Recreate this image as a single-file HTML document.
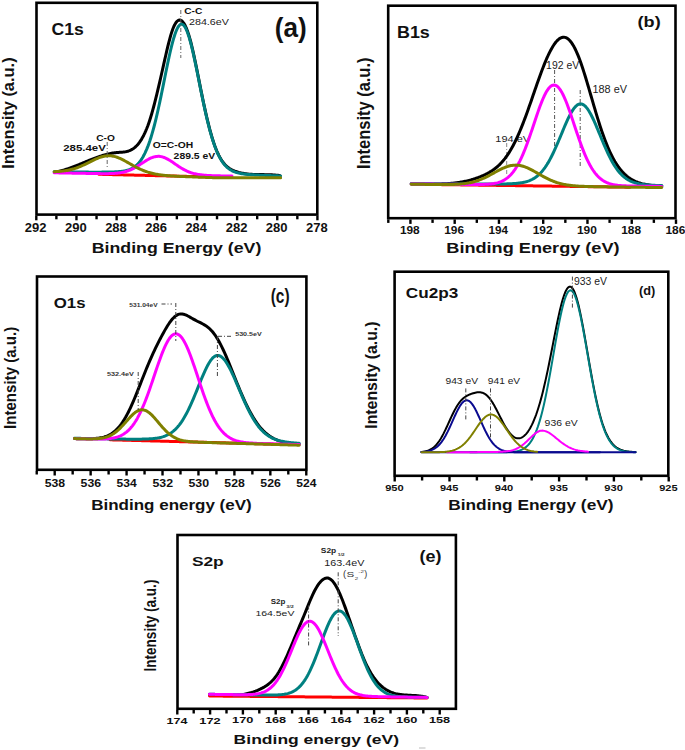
<!DOCTYPE html>
<html><head><meta charset="utf-8"><style>
html,body{margin:0;padding:0;background:#fff;}
svg{display:block;}
text{font-family:"Liberation Sans", sans-serif;font-kerning:none;}
</style></head><body>
<svg width="685" height="750" viewBox="0 0 685 750">
<rect width="685" height="750" fill="#fff"/>
<rect x="36.5" y="2.8" width="280.8" height="211.79999999999998" fill="none" stroke="#000" stroke-width="2.6"/>
<line x1="36.30" y1="215.80" x2="36.30" y2="220.30" stroke="#000" stroke-width="2.4"/>
<line x1="76.46" y1="215.80" x2="76.46" y2="220.30" stroke="#000" stroke-width="2.4"/>
<line x1="116.62" y1="215.80" x2="116.62" y2="220.30" stroke="#000" stroke-width="2.4"/>
<line x1="156.78" y1="215.80" x2="156.78" y2="220.30" stroke="#000" stroke-width="2.4"/>
<line x1="196.94" y1="215.80" x2="196.94" y2="220.30" stroke="#000" stroke-width="2.4"/>
<line x1="237.10" y1="215.80" x2="237.10" y2="220.30" stroke="#000" stroke-width="2.4"/>
<line x1="277.26" y1="215.80" x2="277.26" y2="220.30" stroke="#000" stroke-width="2.4"/>
<line x1="317.42" y1="215.80" x2="317.42" y2="220.30" stroke="#000" stroke-width="2.4"/>
<line x1="56.38" y1="215.80" x2="56.38" y2="219.30" stroke="#000" stroke-width="2.4"/>
<line x1="96.54" y1="215.80" x2="96.54" y2="219.30" stroke="#000" stroke-width="2.4"/>
<line x1="136.70" y1="215.80" x2="136.70" y2="219.30" stroke="#000" stroke-width="2.4"/>
<line x1="176.86" y1="215.80" x2="176.86" y2="219.30" stroke="#000" stroke-width="2.4"/>
<line x1="217.02" y1="215.80" x2="217.02" y2="219.30" stroke="#000" stroke-width="2.4"/>
<line x1="257.18" y1="215.80" x2="257.18" y2="219.30" stroke="#000" stroke-width="2.4"/>
<line x1="297.34" y1="215.80" x2="297.34" y2="219.30" stroke="#000" stroke-width="2.4"/>
<text x="24.85" y="231.98" font-size="12.15" font-weight="bold" fill="#111" textLength="21.77" lengthAdjust="spacingAndGlyphs" >292</text>
<text x="65.01" y="231.98" font-size="12.15" font-weight="bold" fill="#111" textLength="21.79" lengthAdjust="spacingAndGlyphs" >290</text>
<text x="105.17" y="231.98" font-size="12.15" font-weight="bold" fill="#111" textLength="21.65" lengthAdjust="spacingAndGlyphs" >288</text>
<text x="145.33" y="231.98" font-size="12.15" font-weight="bold" fill="#111" textLength="21.72" lengthAdjust="spacingAndGlyphs" >286</text>
<text x="185.50" y="231.98" font-size="12.15" font-weight="bold" fill="#111" textLength="21.31" lengthAdjust="spacingAndGlyphs" >284</text>
<text x="225.65" y="231.98" font-size="12.15" font-weight="bold" fill="#111" textLength="21.77" lengthAdjust="spacingAndGlyphs" >282</text>
<text x="265.81" y="231.98" font-size="12.15" font-weight="bold" fill="#111" textLength="21.79" lengthAdjust="spacingAndGlyphs" >280</text>
<text x="305.97" y="231.98" font-size="12.15" font-weight="bold" fill="#111" textLength="21.65" lengthAdjust="spacingAndGlyphs" >278</text>
<text transform="translate(14.14,168.75) rotate(-90)" x="0" y="0" font-size="16.41" font-weight="bold" fill="#111" textLength="111.42" lengthAdjust="spacingAndGlyphs">Intensity (a.u.)</text>
<text x="91.71" y="252.94" font-size="15.38" font-weight="bold" fill="#111" textLength="169.67" lengthAdjust="spacingAndGlyphs" >Binding Energy (eV)</text>
<text x="51.48" y="35.04" font-size="16.10" font-weight="bold" fill="#111" textLength="32.24" lengthAdjust="spacingAndGlyphs" >C1s</text>
<text x="274.80" y="37.05" font-size="27.25" font-weight="bold" fill="#111" textLength="31.90" lengthAdjust="spacingAndGlyphs" >(a)</text>
<polyline points="54.40,172.21 55.40,172.04 56.41,171.86 57.41,171.66 58.41,171.45 59.41,171.21 60.42,170.97 61.42,170.71 62.42,170.44 63.42,170.15 64.43,169.86 65.43,169.55 66.43,169.23 67.43,168.90 68.44,168.56 69.44,168.21 70.44,167.86 71.45,167.49 72.45,167.12 73.45,166.74 74.45,166.36 75.46,165.97 76.46,165.57 77.46,165.17 78.46,164.77 79.47,164.36 80.47,163.95 81.47,163.54 82.47,163.13 83.48,162.72 84.48,162.31 85.48,161.89 86.49,161.48 87.49,161.07 88.49,160.67 89.49,160.26 90.50,159.86 91.50,159.46 92.50,159.07 93.50,158.68 94.51,158.30 95.51,157.93 96.51,157.56 97.51,157.20 98.52,156.84 99.52,156.50 100.52,156.17 101.53,155.84 102.53,155.53 103.53,155.22 104.53,154.93 105.54,154.66 106.54,154.39 107.54,154.14 108.54,153.90 109.55,153.68 110.55,153.47 111.55,153.28 112.55,153.10 113.56,152.94 114.56,152.80 115.56,152.68 116.57,152.58 117.57,152.49 118.57,152.42 119.57,152.35 120.58,152.29 121.58,152.21 122.58,152.13 123.58,152.02 124.59,151.89 125.59,151.72 126.59,151.52 127.59,151.26 128.60,150.96 129.60,150.59 130.60,150.16 131.61,149.65 132.61,149.07 133.61,148.39 134.61,147.63 135.62,146.76 136.62,145.79 137.62,144.71 138.62,143.50 139.63,142.17 140.63,140.71 141.63,139.10 142.63,137.36 143.64,135.45 144.64,133.39 145.64,131.16 146.65,128.76 147.65,126.18 148.65,123.42 149.65,120.46 150.66,117.30 151.66,113.95 152.66,110.42 153.66,106.74 154.67,102.91 155.67,98.94 156.67,94.87 157.67,90.69 158.68,86.43 159.68,82.10 160.68,77.71 161.69,73.29 162.69,68.85 163.69,64.39 164.69,59.95 165.70,55.52 166.70,51.17 167.70,46.93 168.70,42.86 169.71,39.01 170.71,35.42 171.71,32.15 172.71,29.25 173.72,26.75 174.72,24.65 175.72,22.96 176.73,21.65 177.73,20.73 178.73,20.20 179.73,20.04 180.74,20.26 181.74,20.85 182.74,21.80 183.74,23.12 184.75,24.79 185.75,26.81 186.75,29.17 187.75,31.88 188.76,34.93 189.76,38.31 190.76,42.01 191.77,46.01 192.77,50.27 193.77,54.76 194.77,59.44 195.78,64.27 196.78,69.22 197.78,74.24 198.78,79.31 199.79,84.38 200.79,89.42 201.79,94.40 202.79,99.27 203.80,104.02 204.80,108.65 205.80,113.14 206.81,117.48 207.81,121.67 208.81,125.69 209.81,129.55 210.82,133.22 211.82,136.70 212.82,139.98 213.82,143.06 214.83,145.92 215.83,148.57 216.83,151.02 217.83,153.28 218.84,155.35 219.84,157.25 220.84,158.99 221.85,160.57 222.85,162.00 223.85,163.30 224.85,164.47 225.86,165.51 226.86,166.45 227.86,167.29 228.86,168.04 229.87,168.70 230.87,169.29 231.87,169.82 232.87,170.29 233.88,170.71 234.88,171.10 235.88,171.46 236.89,171.80 237.89,172.10 238.89,172.39 239.89,172.65 240.90,172.89 241.90,173.11 242.90,173.31 243.90,173.49 244.91,173.65 245.91,173.80 246.91,173.93 247.91,174.04 248.92,174.14 249.92,174.23 250.92,174.30 251.93,174.37 252.93,174.42 253.93,174.46 254.93,174.50 255.94,174.53 256.94,174.55 257.94,174.57 258.94,174.59 259.95,174.60 260.95,174.60 261.95,174.61 262.95,174.62 263.96,174.62 264.96,174.63 265.96,174.65 266.97,174.66 267.97,174.68 268.97,174.71 269.97,174.74 270.98,174.78 271.98,174.82 272.98,174.88 273.98,174.95 274.99,175.03 275.99,175.12 276.99,175.23 277.99,175.35 279.00,175.48 280.00,175.63" fill="none" stroke="#000" stroke-width="3" stroke-linejoin="round" stroke-linecap="round"/>
<polyline points="99.00,174.30 99.99,174.32 100.98,174.35 101.97,174.37 102.96,174.39 103.95,174.42 104.94,174.44 105.93,174.46 106.93,174.49 107.92,174.51 108.91,174.53 109.90,174.56 110.89,174.58 111.88,174.60 112.87,174.63 113.86,174.65 114.85,174.67 115.84,174.70 116.83,174.72 117.82,174.74 118.81,174.77 119.80,174.79 120.79,174.81 121.79,174.84 122.78,174.86 123.77,174.88 124.76,174.91 125.75,174.93 126.74,174.95 127.73,174.98 128.72,175.00 129.71,175.02 130.70,175.05 131.69,175.07 132.68,175.09 133.67,175.12 134.66,175.14 135.65,175.16 136.64,175.19 137.64,175.21 138.63,175.23 139.62,175.26 140.61,175.28 141.60,175.30 142.59,175.33 143.58,175.35 144.57,175.37 145.56,175.40 146.55,175.42 147.54,175.44 148.53,175.47 149.52,175.49 150.51,175.51 151.50,175.54 152.50,175.56 153.49,175.59 154.48,175.61 155.47,175.63 156.46,175.66 157.45,175.68 158.44,175.70 159.43,175.73 160.42,175.75 161.41,175.77 162.40,175.80 163.39,175.82 164.38,175.84 165.37,175.87 166.36,175.89 167.36,175.91 168.35,175.94 169.34,175.96 170.33,175.98 171.32,176.01 172.31,176.03 173.30,176.05 174.29,176.08 175.28,176.10 176.27,176.12 177.26,176.15 178.25,176.17 179.24,176.19 180.23,176.22 181.22,176.24 182.21,176.26 183.21,176.29 184.20,176.31 185.19,176.33 186.18,176.36 187.17,176.38 188.16,176.40 189.15,176.43 190.14,176.45 191.13,176.47 192.12,176.50 193.11,176.52 194.10,176.54 195.09,176.57 196.08,176.59 197.07,176.61 198.07,176.64 199.06,176.66 200.05,176.68 201.04,176.71 202.03,176.73 203.02,176.75 204.01,176.78 205.00,176.80" fill="none" stroke="#ff0000" stroke-width="3" stroke-linejoin="round" stroke-linecap="round"/>
<polyline points="54.20,171.79 55.20,171.81 56.19,171.82 57.19,171.83 58.19,171.85 59.19,171.86 60.18,171.87 61.18,171.88 62.18,171.90 63.18,171.91 64.17,171.92 65.17,171.93 66.17,171.94 67.17,171.95 68.16,171.96 69.16,171.97 70.16,171.98 71.16,172.00 72.15,172.00 73.15,172.01 74.15,172.02 75.14,172.03 76.14,172.04 77.14,172.05 78.14,172.06 79.13,172.07 80.13,172.07 81.13,172.08 82.13,172.09 83.12,172.10 84.12,172.10 85.12,172.11 86.12,172.11 87.11,172.12 88.11,172.12 89.11,172.13 90.10,172.13 91.10,172.13 92.10,172.14 93.10,172.14 94.09,172.14 95.09,172.14 96.09,172.14 97.09,172.14 98.08,172.14 99.08,172.14 100.08,172.13 101.08,172.13 102.07,172.12 103.07,172.12 104.07,172.11 105.07,172.10 106.06,172.09 107.06,172.08 108.06,172.06 109.05,172.04 110.05,172.02 111.05,172.00 112.05,171.97 113.04,171.93 114.04,171.90 115.04,171.85 116.04,171.80 117.03,171.74 118.03,171.67 119.03,171.59 120.03,171.50 121.02,171.39 122.02,171.26 123.02,171.12 124.01,170.95 125.01,170.76 126.01,170.54 127.01,170.28 128.00,169.99 129.00,169.66 130.00,169.28 131.00,168.84 131.99,168.35 132.99,167.79 133.99,167.16 134.99,166.45 135.98,165.66 136.98,164.77 137.98,163.77 138.98,162.66 139.97,161.43 140.97,160.06 141.97,158.56 142.96,156.91 143.96,155.10 144.96,153.13 145.96,150.98 146.95,148.66 147.95,146.14 148.95,143.44 149.95,140.55 150.94,137.45 151.94,134.16 152.94,130.67 153.94,126.99 154.93,123.13 155.93,119.08 156.93,114.86 157.93,110.49 158.92,105.97 159.92,101.32 160.92,96.57 161.91,91.73 162.91,86.83 163.91,81.90 164.91,76.96 165.90,72.04 166.90,67.18 167.90,62.41 168.90,57.77 169.89,53.29 170.89,49.00 171.89,44.95 172.89,41.16 173.88,37.68 174.88,34.54 175.88,31.76 176.87,29.38 177.87,27.43 178.87,25.92 179.87,24.87 180.86,24.29 181.86,24.20 182.86,24.58 183.86,25.45 184.85,26.78 185.85,28.57 186.85,30.78 187.85,33.41 188.84,36.42 189.84,39.79 190.84,43.47 191.84,47.44 192.83,51.66 193.83,56.09 194.83,60.70 195.82,65.46 196.82,70.31 197.82,75.25 198.82,80.22 199.81,85.20 200.81,90.15 201.81,95.06 202.81,99.90 203.80,104.64 204.80,109.26 205.80,113.74 206.80,118.08 207.79,122.24 208.79,126.24 209.79,130.04 210.79,133.66 211.78,137.09 212.78,140.31 213.78,143.34 214.77,146.17 215.77,148.81 216.77,151.27 217.77,153.54 218.76,155.63 219.76,157.56 220.76,159.32 221.76,160.93 222.75,162.40 223.75,163.73 224.75,164.93 225.75,166.02 226.74,167.00 227.74,167.88 228.74,168.67 229.73,169.38 230.73,170.00 231.73,170.57 232.73,171.06 233.72,171.51 234.72,171.90 235.72,172.25 236.72,172.56 237.71,172.84 238.71,173.08 239.71,173.30 240.71,173.49 241.70,173.67 242.70,173.82 243.70,173.96 244.70,174.09 245.69,174.20 246.69,174.30 247.69,174.40 248.68,174.48 249.68,174.56 250.68,174.64 251.68,174.71 252.67,174.77 253.67,174.83 254.67,174.89 255.67,174.95 256.66,175.00 257.66,175.05 258.66,175.10 259.66,175.15 260.65,175.19 261.65,175.24 262.65,175.28 263.64,175.32 264.64,175.37 265.64,175.41 266.64,175.45 267.63,175.49 268.63,175.52 269.63,175.56 270.63,175.60 271.62,175.63 272.62,175.67 273.62,175.71 274.62,175.74 275.61,175.78 276.61,175.81 277.61,175.84 278.61,175.88 279.60,175.91 280.60,175.94" fill="none" stroke="#008080" stroke-width="3" stroke-linejoin="round" stroke-linecap="round"/>
<polyline points="54.20,172.80 55.20,172.82 56.20,172.84 57.20,172.86 58.20,172.87 59.19,172.89 60.19,172.91 61.19,172.93 62.19,172.95 63.19,172.97 64.19,172.99 65.19,173.00 66.19,173.02 67.19,173.04 68.18,173.06 69.18,173.08 70.18,173.10 71.18,173.12 72.18,173.13 73.18,173.15 74.18,173.17 75.18,173.19 76.18,173.21 77.17,173.23 78.17,173.24 79.17,173.26 80.17,173.28 81.17,173.30 82.17,173.32 83.17,173.34 84.17,173.36 85.17,173.37 86.16,173.39 87.16,173.41 88.16,173.43 89.16,173.45 90.16,173.46 91.16,173.48 92.16,173.50 93.16,173.52 94.16,173.53 95.15,173.55 96.15,173.56 97.15,173.58 98.15,173.59 99.15,173.61 100.15,173.62 101.15,173.63 102.15,173.64 103.14,173.64 104.14,173.65 105.14,173.65 106.14,173.64 107.14,173.64 108.14,173.63 109.14,173.61 110.14,173.59 111.14,173.56 112.13,173.52 113.13,173.47 114.13,173.42 115.13,173.35 116.13,173.27 117.13,173.17 118.13,173.06 119.13,172.94 120.13,172.79 121.12,172.63 122.12,172.44 123.12,172.23 124.12,172.00 125.12,171.74 126.12,171.45 127.12,171.14 128.12,170.79 129.12,170.42 130.11,170.02 131.11,169.59 132.11,169.12 133.11,168.63 134.11,168.11 135.11,167.56 136.11,166.99 137.11,166.40 138.11,165.78 139.10,165.15 140.10,164.51 141.10,163.86 142.10,163.20 143.10,162.55 144.10,161.90 145.10,161.26 146.10,160.63 147.10,160.03 148.09,159.46 149.09,158.92 150.09,158.42 151.09,157.96 152.09,157.55 153.09,157.20 154.09,156.90 155.09,156.66 156.09,156.49 157.08,156.38 158.08,156.33 159.08,156.36 160.08,156.45 161.08,156.61 162.08,156.83 163.08,157.11 164.08,157.46 165.08,157.86 166.07,158.32 167.07,158.82 168.07,159.36 169.07,159.94 170.07,160.56 171.07,161.20 172.07,161.86 173.07,162.54 174.07,163.23 175.06,163.93 176.06,164.62 177.06,165.31 178.06,165.99 179.06,166.65 180.06,167.30 181.06,167.93 182.06,168.53 183.06,169.11 184.05,169.66 185.05,170.19 186.05,170.68 187.05,171.15 188.05,171.58 189.05,171.99 190.05,172.36 191.05,172.71 192.04,173.03 193.04,173.32 194.04,173.59 195.04,173.83 196.04,174.05 197.04,174.25 198.04,174.43 199.04,174.59 200.04,174.73 201.03,174.86 202.03,174.98 203.03,175.08 204.03,175.17 205.03,175.25 206.03,175.33 207.03,175.39 208.03,175.45 209.03,175.50 210.02,175.55 211.02,175.59 212.02,175.63 213.02,175.67 214.02,175.70 215.02,175.73 216.02,175.76 217.02,175.79 218.02,175.81 219.01,175.84 220.01,175.86 221.01,175.88 222.01,175.90 223.01,175.92 224.01,175.94 225.01,175.96 226.01,175.98 227.01,176.00 228.00,176.02 229.00,176.04 230.00,176.06 231.00,176.08 232.00,176.10" fill="none" stroke="#ff00ff" stroke-width="3" stroke-linejoin="round" stroke-linecap="round"/>
<polyline points="54.20,171.67 55.20,171.63 56.19,171.59 57.19,171.53 58.19,171.47 59.19,171.40 60.18,171.32 61.18,171.23 62.18,171.13 63.18,171.01 64.17,170.88 65.17,170.74 66.17,170.58 67.17,170.41 68.16,170.22 69.16,170.01 70.16,169.79 71.16,169.55 72.15,169.29 73.15,169.01 74.15,168.72 75.14,168.40 76.14,168.07 77.14,167.72 78.14,167.35 79.13,166.96 80.13,166.56 81.13,166.14 82.13,165.70 83.12,165.25 84.12,164.79 85.12,164.31 86.12,163.83 87.11,163.34 88.11,162.84 89.11,162.34 90.10,161.84 91.10,161.34 92.10,160.84 93.10,160.35 94.09,159.87 95.09,159.40 96.09,158.95 97.09,158.52 98.08,158.10 99.08,157.72 100.08,157.35 101.08,157.02 102.07,156.73 103.07,156.46 104.07,156.24 105.07,156.05 106.06,155.91 107.06,155.81 108.06,155.76 109.05,155.75 110.05,155.78 111.05,155.86 112.05,155.99 113.04,156.16 114.04,156.38 115.04,156.63 116.04,156.93 117.03,157.26 118.03,157.63 119.03,158.03 120.03,158.46 121.02,158.92 122.02,159.40 123.02,159.91 124.01,160.43 125.01,160.96 126.01,161.51 127.01,162.07 128.00,162.63 129.00,163.20 130.00,163.77 131.00,164.34 131.99,164.90 132.99,165.46 133.99,166.01 134.99,166.55 135.98,167.08 136.98,167.59 137.98,168.10 138.98,168.58 139.97,169.05 140.97,169.50 141.97,169.94 142.96,170.35 143.96,170.75 144.96,171.13 145.96,171.49 146.95,171.83 147.95,172.16 148.95,172.46 149.95,172.75 150.94,173.02 151.94,173.28 152.94,173.52 153.94,173.74 154.93,173.95 155.93,174.14 156.93,174.32 157.93,174.49 158.92,174.65 159.92,174.80 160.92,174.93 161.91,175.06 162.91,175.18 163.91,175.29 164.91,175.39 165.90,175.49 166.90,175.58 167.90,175.66 168.90,175.74 169.89,175.81 170.89,175.88 171.89,175.95 172.89,176.01 173.88,176.07 174.88,176.13 175.88,176.18 176.87,176.23 177.87,176.28 178.87,176.33 179.87,176.38 180.86,176.42 181.86,176.47 182.86,176.51 183.86,176.55 184.85,176.60 185.85,176.64 186.85,176.68 187.85,176.72 188.84,176.76 189.84,176.79 190.84,176.83 191.84,176.87 192.83,176.91 193.83,176.95 194.83,176.98 195.82,177.02 196.82,177.06 197.82,177.09 198.82,177.13 199.81,177.17 200.81,177.20 201.81,177.24 202.81,177.27 203.80,177.31 204.80,177.35 205.80,177.38 206.80,177.42 207.79,177.45 208.79,177.49 209.79,177.52 210.79,177.56 211.78,177.59 212.78,177.63 213.78,177.66 214.77,177.70 215.77,177.71 216.77,177.71 217.77,177.71 218.76,177.71 219.76,177.72 220.76,177.72 221.76,177.72 222.75,177.72 223.75,177.72 224.75,177.72 225.75,177.72 226.74,177.72 227.74,177.73 228.74,177.73 229.73,177.73 230.73,177.73 231.73,177.73 232.73,177.73 233.72,177.73 234.72,177.73 235.72,177.73 236.72,177.74 237.71,177.74 238.71,177.74 239.71,177.74 240.71,177.74 241.70,177.74 242.70,177.74 243.70,177.74 244.70,177.74 245.69,177.74 246.69,177.74 247.69,177.75 248.68,177.75 249.68,177.75 250.68,177.75 251.68,177.75 252.67,177.75 253.67,177.75 254.67,177.75 255.67,177.75 256.66,177.75 257.66,177.75 258.66,177.75 259.66,177.75 260.65,177.75 261.65,177.75 262.65,177.76 263.64,177.76 264.64,177.76 265.64,177.76 266.64,177.76 267.63,177.76 268.63,177.76 269.63,177.76 270.63,177.76 271.62,177.76 272.62,177.76 273.62,177.76 274.62,177.76 275.61,177.76 276.61,177.76 277.61,177.76 278.61,177.76 279.60,177.76 280.60,177.76" fill="none" stroke="#808000" stroke-width="3" stroke-linejoin="round" stroke-linecap="round"/>
<line x1="180.80" y1="10.00" x2="180.80" y2="58.00" stroke="#666" stroke-width="1" stroke-dasharray="4,2,1,2"/>
<line x1="107.20" y1="142.00" x2="107.20" y2="168.00" stroke="#666" stroke-width="1" stroke-dasharray="4,2,1,2"/>
<text x="184.28" y="13.51" font-size="8.90" font-weight="bold" fill="#111" textLength="17.99" lengthAdjust="spacingAndGlyphs" >C-C</text>
<text x="188.96" y="24.90" font-size="9.89" font-weight="normal" fill="#222" textLength="39.99" lengthAdjust="spacingAndGlyphs" >284.6eV</text>
<text x="96.18" y="141.02" font-size="8.47" font-weight="bold" fill="#111" textLength="18.64" lengthAdjust="spacingAndGlyphs" >C-O</text>
<text x="63.20" y="151.10" font-size="9.75" font-weight="bold" fill="#111" textLength="42.57" lengthAdjust="spacingAndGlyphs" >285.4eV</text>
<text x="152.78" y="148.01" font-size="8.76" font-weight="bold" fill="#111" textLength="40.32" lengthAdjust="spacingAndGlyphs" >O=C-OH</text>
<text x="173.64" y="159.31" font-size="9.60" font-weight="bold" fill="#111" textLength="41.53" lengthAdjust="spacingAndGlyphs" >289.5 eV</text>
<rect x="388.2" y="5.7" width="287.3" height="212.5" fill="none" stroke="#000" stroke-width="2.6"/>
<line x1="410.43" y1="219.40" x2="410.43" y2="223.90" stroke="#000" stroke-width="2.4"/>
<line x1="454.69" y1="219.40" x2="454.69" y2="223.90" stroke="#000" stroke-width="2.4"/>
<line x1="498.95" y1="219.40" x2="498.95" y2="223.90" stroke="#000" stroke-width="2.4"/>
<line x1="543.21" y1="219.40" x2="543.21" y2="223.90" stroke="#000" stroke-width="2.4"/>
<line x1="587.47" y1="219.40" x2="587.47" y2="223.90" stroke="#000" stroke-width="2.4"/>
<line x1="631.73" y1="219.40" x2="631.73" y2="223.90" stroke="#000" stroke-width="2.4"/>
<line x1="675.99" y1="219.40" x2="675.99" y2="223.90" stroke="#000" stroke-width="2.4"/>
<line x1="388.30" y1="219.40" x2="388.30" y2="222.90" stroke="#000" stroke-width="2.4"/>
<line x1="432.56" y1="219.40" x2="432.56" y2="222.90" stroke="#000" stroke-width="2.4"/>
<line x1="476.82" y1="219.40" x2="476.82" y2="222.90" stroke="#000" stroke-width="2.4"/>
<line x1="521.08" y1="219.40" x2="521.08" y2="222.90" stroke="#000" stroke-width="2.4"/>
<line x1="565.34" y1="219.40" x2="565.34" y2="222.90" stroke="#000" stroke-width="2.4"/>
<line x1="609.60" y1="219.40" x2="609.60" y2="222.90" stroke="#000" stroke-width="2.4"/>
<line x1="653.86" y1="219.40" x2="653.86" y2="222.90" stroke="#000" stroke-width="2.4"/>
<text x="399.93" y="233.90" font-size="10.03" font-weight="bold" fill="#111" textLength="19.81" lengthAdjust="spacingAndGlyphs" >198</text>
<text x="444.19" y="233.90" font-size="10.03" font-weight="bold" fill="#111" textLength="19.88" lengthAdjust="spacingAndGlyphs" >196</text>
<text x="488.46" y="233.90" font-size="10.03" font-weight="bold" fill="#111" textLength="19.50" lengthAdjust="spacingAndGlyphs" >194</text>
<text x="532.71" y="233.90" font-size="10.03" font-weight="bold" fill="#111" textLength="19.93" lengthAdjust="spacingAndGlyphs" >192</text>
<text x="576.97" y="233.90" font-size="10.03" font-weight="bold" fill="#111" textLength="19.94" lengthAdjust="spacingAndGlyphs" >190</text>
<text x="621.23" y="233.90" font-size="10.03" font-weight="bold" fill="#111" textLength="19.81" lengthAdjust="spacingAndGlyphs" >188</text>
<text x="665.49" y="233.90" font-size="10.03" font-weight="bold" fill="#111" textLength="19.88" lengthAdjust="spacingAndGlyphs" >186</text>
<text transform="translate(370.00,169.05) rotate(-90)" x="0" y="0" font-size="17.59" font-weight="bold" fill="#111" textLength="111.52" lengthAdjust="spacingAndGlyphs">Intensity (a.u.)</text>
<text x="446.29" y="252.71" font-size="15.06" font-weight="bold" fill="#111" textLength="173.32" lengthAdjust="spacingAndGlyphs" >Binding Energy (eV)</text>
<text x="397.00" y="38.24" font-size="16.19" font-weight="bold" fill="#111" textLength="32.83" lengthAdjust="spacingAndGlyphs" >B1s</text>
<text x="637.60" y="26.68" font-size="15.02" font-weight="bold" fill="#111" textLength="23.10" lengthAdjust="spacingAndGlyphs" >(b)</text>
<text x="546.11" y="69.30" font-size="10.03" font-weight="normal" fill="#222" textLength="33.04" lengthAdjust="spacingAndGlyphs" >192 eV</text>
<text x="592.47" y="93.40" font-size="10.03" font-weight="normal" fill="#222" textLength="34.48" lengthAdjust="spacingAndGlyphs" >188 eV</text>
<text x="495.37" y="141.70" font-size="9.75" font-weight="normal" fill="#222" textLength="34.68" lengthAdjust="spacingAndGlyphs" >194 eV</text>
<line x1="554.60" y1="70.00" x2="554.60" y2="146.00" stroke="#555" stroke-width="1" stroke-dasharray="4,2,1,2"/>
<line x1="580.20" y1="90.00" x2="580.20" y2="168.00" stroke="#555" stroke-width="1" stroke-dasharray="4,2,1,2"/>
<line x1="506.70" y1="143.00" x2="506.70" y2="174.30" stroke="#888" stroke-width="1" stroke-dasharray="4,2,1,2"/>
<polyline points="411.20,183.90 412.20,183.91 413.20,183.92 414.20,183.92 415.19,183.93 416.19,183.94 417.19,183.95 418.19,183.96 419.19,183.97 420.19,183.98 421.18,183.98 422.18,183.99 423.18,184.00 424.18,184.00 425.18,184.01 426.18,184.01 427.17,184.01 428.17,184.02 429.17,184.02 430.17,184.02 431.17,184.02 432.17,184.01 433.16,184.01 434.16,184.00 435.16,184.00 436.16,183.98 437.16,183.97 438.16,183.96 439.16,183.94 440.15,183.91 441.15,183.89 442.15,183.86 443.15,183.82 444.15,183.78 445.15,183.74 446.14,183.69 447.14,183.64 448.14,183.58 449.14,183.51 450.14,183.44 451.14,183.36 452.13,183.27 453.13,183.17 454.13,183.07 455.13,182.96 456.13,182.84 457.13,182.71 458.13,182.57 459.12,182.42 460.12,182.26 461.12,182.09 462.12,181.91 463.12,181.72 464.12,181.52 465.11,181.31 466.11,181.09 467.11,180.86 468.11,180.62 469.11,180.36 470.11,180.10 471.10,179.82 472.10,179.53 473.10,179.24 474.10,178.92 475.10,178.60 476.10,178.27 477.09,177.92 478.09,177.56 479.09,177.18 480.09,176.79 481.09,176.39 482.09,175.97 483.09,175.53 484.08,175.08 485.08,174.61 486.08,174.11 487.08,173.60 488.08,173.06 489.08,172.50 490.07,171.91 491.07,171.30 492.07,170.65 493.07,169.97 494.07,169.26 495.07,168.51 496.06,167.71 497.06,166.88 498.06,166.00 499.06,165.07 500.06,164.09 501.06,163.06 502.05,161.98 503.05,160.83 504.05,159.62 505.05,158.36 506.05,157.02 507.05,155.62 508.05,154.15 509.04,152.61 510.04,150.99 511.04,149.31 512.04,147.55 513.04,145.71 514.04,143.80 515.03,141.81 516.03,139.75 517.03,137.61 518.03,135.41 519.03,133.13 520.03,130.78 521.02,128.37 522.02,125.89 523.02,123.35 524.02,120.76 525.02,118.11 526.02,115.41 527.02,112.67 528.01,109.89 529.01,107.08 530.01,104.24 531.01,101.38 532.01,98.50 533.01,95.61 534.00,92.72 535.00,89.83 536.00,86.95 537.00,84.09 538.00,81.26 539.00,78.45 539.99,75.69 540.99,72.96 541.99,70.30 542.99,67.68 543.99,65.14 544.99,62.67 545.98,60.27 546.98,57.96 547.98,55.75 548.98,53.63 549.98,51.61 550.98,49.70 551.98,47.91 552.97,46.24 553.97,44.70 554.97,43.28 555.97,42.00 556.97,40.87 557.97,39.87 558.96,39.03 559.96,38.35 560.96,37.82 561.96,37.46 562.96,37.26 563.96,37.23 564.95,37.38 565.95,37.69 566.95,38.19 567.95,38.86 568.95,39.71 569.95,40.74 570.95,41.95 571.94,43.34 572.94,44.89 573.94,46.62 574.94,48.52 575.94,50.58 576.94,52.80 577.93,55.17 578.93,57.68 579.93,60.33 580.93,63.10 581.93,66.00 582.93,69.00 583.92,72.09 584.92,75.27 585.92,78.53 586.92,81.84 587.92,85.21 588.92,88.62 589.91,92.05 590.91,95.50 591.91,98.95 592.91,102.39 593.91,105.81 594.91,109.20 595.91,112.56 596.90,115.87 597.90,119.12 598.90,122.31 599.90,125.43 600.90,128.47 601.90,131.43 602.89,134.31 603.89,137.09 604.89,139.79 605.89,142.39 606.89,144.89 607.89,147.30 608.88,149.60 609.88,151.81 610.88,153.92 611.88,155.94 612.88,157.86 613.88,159.69 614.87,161.43 615.87,163.07 616.87,164.63 617.87,166.11 618.87,167.50 619.87,168.82 620.87,170.06 621.86,171.23 622.86,172.33 623.86,173.36 624.86,174.33 625.86,175.23 626.86,176.08 627.85,176.88 628.85,177.62 629.85,178.31 630.85,178.95 631.85,179.55 632.85,180.11 633.84,180.63 634.84,181.11 635.84,181.55 636.84,181.96 637.84,182.35 638.84,182.70 639.84,183.02 640.83,183.32 641.83,183.60 642.83,183.85 643.83,184.09 644.83,184.30 645.83,184.50 646.82,184.68 647.82,184.85 648.82,185.00 649.82,185.14 650.82,185.26 651.82,185.38 652.81,185.49 653.81,185.58 654.81,185.67 655.81,185.75 656.81,185.83 657.81,185.89 658.80,185.96 659.80,186.01 660.80,186.06 661.80,186.11" fill="none" stroke="#000" stroke-width="3" stroke-linejoin="round" stroke-linecap="round"/>
<polyline points="440.00,184.60 440.99,184.61 441.99,184.63 442.98,184.64 443.98,184.65 444.97,184.67 445.97,184.68 446.96,184.70 447.96,184.71 448.95,184.72 449.95,184.74 450.94,184.75 451.94,184.76 452.93,184.78 453.93,184.79 454.92,184.80 455.92,184.82 456.91,184.83 457.91,184.85 458.90,184.86 459.90,184.87 460.89,184.89 461.88,184.90 462.88,184.91 463.87,184.93 464.87,184.94 465.86,184.95 466.86,184.97 467.85,184.98 468.85,184.99 469.84,185.01 470.84,185.02 471.83,185.04 472.83,185.05 473.82,185.06 474.82,185.08 475.81,185.09 476.81,185.10 477.80,185.12 478.80,185.13 479.79,185.14 480.79,185.16 481.78,185.17 482.77,185.19 483.77,185.20 484.76,185.21 485.76,185.23 486.75,185.24 487.75,185.25 488.74,185.27 489.74,185.28 490.73,185.29 491.73,185.31 492.72,185.32 493.72,185.34 494.71,185.35 495.71,185.36 496.70,185.38 497.70,185.39 498.69,185.40 499.69,185.42 500.68,185.43 501.68,185.44 502.67,185.46 503.66,185.47 504.66,185.48 505.65,185.50 506.65,185.51 507.64,185.53 508.64,185.54 509.63,185.55 510.63,185.57 511.62,185.58 512.62,185.59 513.61,185.61 514.61,185.62 515.60,185.63 516.60,185.65 517.59,185.66 518.59,185.68 519.58,185.69 520.58,185.70 521.57,185.72 522.57,185.73 523.56,185.74 524.55,185.76 525.55,185.77 526.54,185.78 527.54,185.80 528.53,185.81 529.53,185.83 530.52,185.84 531.52,185.85 532.51,185.87 533.51,185.88 534.50,185.89 535.50,185.91 536.49,185.92 537.49,185.93 538.48,185.95 539.48,185.96 540.47,185.97 541.47,185.99 542.46,186.00 543.46,186.02 544.45,186.03 545.45,186.04 546.44,186.06 547.43,186.07 548.43,186.08 549.42,186.10 550.42,186.11 551.41,186.12 552.41,186.14 553.40,186.15 554.40,186.17 555.39,186.18 556.39,186.19 557.38,186.21 558.38,186.22 559.37,186.23 560.37,186.25 561.36,186.26 562.36,186.27 563.35,186.29 564.35,186.30 565.34,186.32 566.34,186.33 567.33,186.34 568.32,186.36 569.32,186.37 570.31,186.38 571.31,186.40 572.30,186.41 573.30,186.42 574.29,186.44 575.29,186.45 576.28,186.46 577.28,186.48 578.27,186.49 579.27,186.51 580.26,186.52 581.26,186.53 582.25,186.55 583.25,186.56 584.24,186.57 585.24,186.59 586.23,186.60 587.23,186.61 588.22,186.63 589.21,186.64 590.21,186.66 591.20,186.67 592.20,186.68 593.19,186.70 594.19,186.71 595.18,186.72 596.18,186.74 597.17,186.75 598.17,186.76 599.16,186.78 600.16,186.79 601.15,186.81 602.15,186.82 603.14,186.83 604.14,186.85 605.13,186.86 606.13,186.87 607.12,186.89 608.12,186.90 609.11,186.91 610.10,186.93 611.10,186.94 612.09,186.95 613.09,186.97 614.08,186.98 615.08,187.00 616.07,187.01 617.07,187.02 618.06,187.04 619.06,187.05 620.05,187.06 621.05,187.08 622.04,187.09 623.04,187.10 624.03,187.12 625.03,187.13 626.02,187.15 627.02,187.16 628.01,187.17 629.01,187.19 630.00,187.20" fill="none" stroke="#ff0000" stroke-width="3" stroke-linejoin="round" stroke-linecap="round"/>
<polyline points="411.20,183.71 412.20,183.72 413.20,183.73 414.20,183.74 415.19,183.75 416.19,183.75 417.19,183.76 418.19,183.77 419.19,183.78 420.19,183.78 421.18,183.79 422.18,183.80 423.18,183.80 424.18,183.81 425.18,183.82 426.18,183.83 427.17,183.83 428.17,183.84 429.17,183.85 430.17,183.85 431.17,183.86 432.17,183.87 433.16,183.88 434.16,183.88 435.16,183.89 436.16,183.90 437.16,183.90 438.16,183.91 439.16,183.91 440.15,183.92 441.15,183.93 442.15,183.93 443.15,183.94 444.15,183.95 445.15,183.95 446.14,183.96 447.14,183.96 448.14,183.97 449.14,183.97 450.14,183.98 451.14,183.98 452.13,183.99 453.13,183.99 454.13,184.00 455.13,184.00 456.13,184.01 457.13,184.01 458.13,184.02 459.12,184.02 460.12,184.03 461.12,184.03 462.12,184.04 463.12,184.04 464.12,184.04 465.11,184.05 466.11,184.05 467.11,184.05 468.11,184.06 469.11,184.06 470.11,184.06 471.10,184.06 472.10,184.07 473.10,184.07 474.10,184.07 475.10,184.07 476.10,184.07 477.09,184.07 478.09,184.08 479.09,184.08 480.09,184.08 481.09,184.08 482.09,184.08 483.09,184.08 484.08,184.08 485.08,184.07 486.08,184.07 487.08,184.07 488.08,184.07 489.08,184.07 490.07,184.06 491.07,184.06 492.07,184.05 493.07,184.05 494.07,184.04 495.07,184.04 496.06,184.03 497.06,184.02 498.06,184.01 499.06,184.00 500.06,183.99 501.06,183.98 502.05,183.97 503.05,183.95 504.05,183.93 505.05,183.91 506.05,183.89 507.05,183.86 508.05,183.83 509.04,183.80 510.04,183.76 511.04,183.72 512.04,183.67 513.04,183.61 514.04,183.55 515.03,183.48 516.03,183.40 517.03,183.31 518.03,183.21 519.03,183.10 520.03,182.97 521.02,182.82 522.02,182.66 523.02,182.47 524.02,182.26 525.02,182.03 526.02,181.77 527.02,181.48 528.01,181.16 529.01,180.80 530.01,180.41 531.01,179.97 532.01,179.48 533.01,178.95 534.00,178.37 535.00,177.73 536.00,177.03 537.00,176.26 538.00,175.43 539.00,174.53 539.99,173.56 540.99,172.52 541.99,171.39 542.99,170.19 543.99,168.90 544.99,167.52 545.98,166.06 546.98,164.52 547.98,162.89 548.98,161.17 549.98,159.37 550.98,157.49 551.98,155.53 552.97,153.50 553.97,151.39 554.97,149.22 555.97,146.98 556.97,144.70 557.97,142.37 558.96,140.01 559.96,137.62 560.96,135.22 561.96,132.81 562.96,130.41 563.96,128.03 564.95,125.69 565.95,123.39 566.95,121.15 567.95,118.99 568.95,116.92 569.95,114.96 570.95,113.11 571.94,111.40 572.94,109.83 573.94,108.43 574.94,107.19 575.94,106.14 576.94,105.28 577.93,104.62 578.93,104.17 579.93,103.93 580.93,103.90 581.93,104.09 582.93,104.49 583.92,105.10 584.92,105.91 585.92,106.92 586.92,108.11 587.92,109.48 588.92,111.01 589.91,112.70 590.91,114.52 591.91,116.47 592.91,118.52 593.91,120.67 594.91,122.91 595.91,125.20 596.90,127.55 597.90,129.94 598.90,132.36 599.90,134.78 600.90,137.21 601.90,139.62 602.89,142.02 603.89,144.38 604.89,146.70 605.89,148.97 606.89,151.18 607.89,153.33 608.88,155.41 609.88,157.42 610.88,159.35 611.88,161.19 612.88,162.96 613.88,164.64 614.87,166.23 615.87,167.74 616.87,169.16 617.87,170.50 618.87,171.75 619.87,172.93 620.87,174.02 621.86,175.04 622.86,175.98 623.86,176.85 624.86,177.66 625.86,178.40 626.86,179.08 627.85,179.70 628.85,180.27 629.85,180.79 630.85,181.26 631.85,181.69 632.85,182.09 633.84,182.44 634.84,182.76 635.84,183.05 636.84,183.31 637.84,183.54 638.84,183.76 639.84,183.95 640.83,184.12 641.83,184.27 642.83,184.41 643.83,184.54 644.83,184.65 645.83,184.76 646.82,184.85 647.82,184.94 648.82,185.01 649.82,185.08 650.82,185.15 651.82,185.21 652.81,185.26 653.81,185.31 654.81,185.36 655.81,185.40 656.81,185.45 657.81,185.48 658.80,185.52 659.80,185.56 660.80,185.59 661.80,185.62" fill="none" stroke="#008080" stroke-width="3" stroke-linejoin="round" stroke-linecap="round"/>
<polyline points="411.20,183.90 412.20,183.91 413.20,183.92 414.20,183.93 415.19,183.94 416.19,183.95 417.19,183.96 418.19,183.97 419.19,183.98 420.19,183.99 421.18,184.00 422.18,184.01 423.18,184.02 424.18,184.03 425.18,184.04 426.18,184.05 427.17,184.06 428.17,184.07 429.17,184.08 430.17,184.09 431.17,184.10 432.17,184.11 433.16,184.12 434.16,184.13 435.16,184.14 436.16,184.15 437.16,184.16 438.16,184.17 439.16,184.18 440.15,184.19 441.15,184.20 442.15,184.21 443.15,184.22 444.15,184.23 445.15,184.24 446.14,184.25 447.14,184.26 448.14,184.27 449.14,184.28 450.14,184.29 451.14,184.30 452.13,184.31 453.13,184.32 454.13,184.33 455.13,184.34 456.13,184.35 457.13,184.36 458.13,184.37 459.12,184.38 460.12,184.39 461.12,184.40 462.12,184.40 463.12,184.41 464.12,184.42 465.11,184.43 466.11,184.44 467.11,184.45 468.11,184.46 469.11,184.46 470.11,184.47 471.10,184.48 472.10,184.48 473.10,184.48 474.10,184.49 475.10,184.49 476.10,184.49 477.09,184.49 478.09,184.48 479.09,184.47 480.09,184.46 481.09,184.45 482.09,184.43 483.09,184.41 484.08,184.38 485.08,184.34 486.08,184.30 487.08,184.24 488.08,184.18 489.08,184.10 490.07,184.02 491.07,183.91 492.07,183.79 493.07,183.66 494.07,183.50 495.07,183.31 496.06,183.11 497.06,182.87 498.06,182.60 499.06,182.29 500.06,181.95 501.06,181.56 502.05,181.13 503.05,180.65 504.05,180.11 505.05,179.51 506.05,178.85 507.05,178.13 508.05,177.32 509.04,176.45 510.04,175.49 511.04,174.44 512.04,173.31 513.04,172.08 514.04,170.76 515.03,169.33 516.03,167.80 517.03,166.16 518.03,164.42 519.03,162.57 520.03,160.60 521.02,158.53 522.02,156.35 523.02,154.07 524.02,151.68 525.02,149.20 526.02,146.62 527.02,143.96 528.01,141.22 529.01,138.41 530.01,135.54 531.01,132.61 532.01,129.66 533.01,126.67 534.00,123.68 535.00,120.68 536.00,117.71 537.00,114.77 538.00,111.88 539.00,109.05 539.99,106.31 540.99,103.67 541.99,101.15 542.99,98.76 543.99,96.52 544.99,94.44 545.98,92.54 546.98,90.83 547.98,89.32 548.98,88.02 549.98,86.95 550.98,86.11 551.98,85.51 552.97,85.14 553.97,85.02 554.97,85.15 555.97,85.52 556.97,86.13 557.97,86.98 558.96,88.06 559.96,89.36 560.96,90.88 561.96,92.60 562.96,94.51 563.96,96.60 564.95,98.85 565.95,101.25 566.95,103.79 567.95,106.44 568.95,109.20 569.95,112.04 570.95,114.94 571.94,117.90 572.94,120.89 573.94,123.91 574.94,126.92 575.94,129.93 576.94,132.91 577.93,135.85 578.93,138.75 579.93,141.58 580.93,144.35 581.93,147.03 582.93,149.64 583.92,152.15 584.92,154.56 585.92,156.87 586.92,159.07 587.92,161.17 588.92,163.16 589.91,165.04 590.91,166.81 591.91,168.47 592.91,170.02 593.91,171.48 594.91,172.83 595.91,174.08 596.90,175.24 597.90,176.31 598.90,177.29 599.90,178.19 600.90,179.02 601.90,179.77 602.89,180.45 603.89,181.07 604.89,181.63 605.89,182.14 606.89,182.60 607.89,183.00 608.88,183.37 609.88,183.70 610.88,183.99 611.88,184.25 612.88,184.48 613.88,184.68 614.87,184.86 615.87,185.02 616.87,185.16 617.87,185.29 618.87,185.39 619.87,185.49 620.87,185.57 621.86,185.65 622.86,185.71 623.86,185.77 624.86,185.82 625.86,185.86 626.86,185.90 627.85,185.94 628.85,185.97 629.85,185.99 630.85,186.02 631.85,186.04 632.85,186.06 633.84,186.08 634.84,186.10 635.84,186.11 636.84,186.13 637.84,186.14 638.84,186.16 639.84,186.17 640.83,186.18 641.83,186.19 642.83,186.20 643.83,186.22 644.83,186.23 645.83,186.24 646.82,186.25 647.82,186.26 648.82,186.27 649.82,186.28 650.82,186.29 651.82,186.30 652.81,186.31 653.81,186.32 654.81,186.33 655.81,186.34 656.81,186.35 657.81,186.36 658.80,186.37 659.80,186.38 660.80,186.39 661.80,186.40" fill="none" stroke="#ff00ff" stroke-width="3" stroke-linejoin="round" stroke-linecap="round"/>
<polyline points="411.20,184.20 412.20,184.21 413.20,184.23 414.20,184.24 415.19,184.25 416.19,184.27 417.19,184.28 418.19,184.29 419.19,184.31 420.19,184.32 421.18,184.33 422.18,184.35 423.18,184.36 424.18,184.37 425.18,184.39 426.18,184.40 427.17,184.41 428.17,184.42 429.17,184.44 430.17,184.45 431.17,184.46 432.17,184.47 433.16,184.48 434.16,184.49 435.16,184.50 436.16,184.51 437.16,184.52 438.16,184.53 439.16,184.53 440.15,184.54 441.15,184.54 442.15,184.55 443.15,184.55 444.15,184.55 445.15,184.55 446.14,184.54 447.14,184.53 448.14,184.53 449.14,184.51 450.14,184.50 451.14,184.48 452.13,184.45 453.13,184.42 454.13,184.39 455.13,184.35 456.13,184.30 457.13,184.25 458.13,184.19 459.12,184.13 460.12,184.05 461.12,183.96 462.12,183.87 463.12,183.76 464.12,183.65 465.11,183.52 466.11,183.38 467.11,183.22 468.11,183.05 469.11,182.87 470.11,182.67 471.10,182.46 472.10,182.23 473.10,181.98 474.10,181.71 475.10,181.43 476.10,181.12 477.09,180.80 478.09,180.46 479.09,180.10 480.09,179.72 481.09,179.33 482.09,178.91 483.09,178.48 484.08,178.03 485.08,177.57 486.08,177.09 487.08,176.59 488.08,176.08 489.08,175.56 490.07,175.03 491.07,174.49 492.07,173.95 493.07,173.40 494.07,172.85 495.07,172.30 496.06,171.75 497.06,171.21 498.06,170.68 499.06,170.15 500.06,169.64 501.06,169.14 502.05,168.66 503.05,168.21 504.05,167.77 505.05,167.36 506.05,166.98 507.05,166.63 508.05,166.31 509.04,166.03 510.04,165.78 511.04,165.57 512.04,165.40 513.04,165.27 514.04,165.18 515.03,165.13 516.03,165.12 517.03,165.16 518.03,165.24 519.03,165.36 520.03,165.52 521.02,165.72 522.02,165.96 523.02,166.24 524.02,166.55 525.02,166.90 526.02,167.28 527.02,167.69 528.01,168.12 529.01,168.59 530.01,169.07 531.01,169.58 532.01,170.11 533.01,170.65 534.00,171.20 535.00,171.76 536.00,172.33 537.00,172.91 538.00,173.49 539.00,174.06 539.99,174.64 540.99,175.21 541.99,175.77 542.99,176.33 543.99,176.87 544.99,177.41 545.98,177.93 546.98,178.44 547.98,178.93 548.98,179.40 549.98,179.86 550.98,180.30 551.98,180.73 552.97,181.13 553.97,181.51 554.97,181.88 555.97,182.23 556.97,182.56 557.97,182.87 558.96,183.16 559.96,183.43 560.96,183.69 561.96,183.93 562.96,184.16 563.96,184.37 564.95,184.56 565.95,184.74 566.95,184.91 567.95,185.07 568.95,185.21 569.95,185.34 570.95,185.46 571.94,185.57 572.94,185.67 573.94,185.77 574.94,185.85 575.94,185.93 576.94,186.01 577.93,186.07 578.93,186.13 579.93,186.19 580.93,186.24 581.93,186.29 582.93,186.33 583.92,186.37 584.92,186.41 585.92,186.44 586.92,186.47 587.92,186.50 588.92,186.53 589.91,186.55 590.91,186.58 591.91,186.60 592.91,186.62 593.91,186.64 594.91,186.66 595.91,186.68 596.90,186.70 597.90,186.71 598.90,186.73 599.90,186.75 600.90,186.76 601.90,186.78 602.89,186.79 603.89,186.81 604.89,186.82 605.89,186.84 606.89,186.85 607.89,186.87 608.88,186.88 609.88,186.89 610.88,186.91 611.88,186.92 612.88,186.93 613.88,186.95 614.87,186.96 615.87,186.98 616.87,186.99 617.87,187.00 618.87,187.02 619.87,187.03 620.87,187.04 621.86,187.06 622.86,187.07 623.86,187.09 624.86,187.10 625.86,187.11 626.86,187.13 627.85,187.14 628.85,187.15 629.85,187.17 630.85,187.18 631.85,187.19 632.85,187.21 633.84,187.22 634.84,187.23 635.84,187.25 636.84,187.26 637.84,187.27 638.84,187.29 639.84,187.30 640.83,187.32 641.83,187.33 642.83,187.34 643.83,187.36 644.83,187.37 645.83,187.38 646.82,187.40 647.82,187.41 648.82,187.42 649.82,187.44 650.82,187.45 651.82,187.46 652.81,187.48 653.81,187.49 654.81,187.51 655.81,187.52 656.81,187.53 657.81,187.55 658.80,187.56 659.80,187.57 660.80,187.59 661.80,187.60" fill="none" stroke="#808000" stroke-width="3" stroke-linejoin="round" stroke-linecap="round"/>
<rect x="37" y="276.5" width="269.4" height="193.3" fill="none" stroke="#000" stroke-width="2.6"/>
<line x1="54.70" y1="471.00" x2="54.70" y2="475.50" stroke="#000" stroke-width="2.4"/>
<line x1="90.64" y1="471.00" x2="90.64" y2="475.50" stroke="#000" stroke-width="2.4"/>
<line x1="126.58" y1="471.00" x2="126.58" y2="475.50" stroke="#000" stroke-width="2.4"/>
<line x1="162.52" y1="471.00" x2="162.52" y2="475.50" stroke="#000" stroke-width="2.4"/>
<line x1="198.46" y1="471.00" x2="198.46" y2="475.50" stroke="#000" stroke-width="2.4"/>
<line x1="234.40" y1="471.00" x2="234.40" y2="475.50" stroke="#000" stroke-width="2.4"/>
<line x1="270.34" y1="471.00" x2="270.34" y2="475.50" stroke="#000" stroke-width="2.4"/>
<line x1="306.28" y1="471.00" x2="306.28" y2="475.50" stroke="#000" stroke-width="2.4"/>
<line x1="36.73" y1="471.00" x2="36.73" y2="474.50" stroke="#000" stroke-width="2.4"/>
<line x1="72.67" y1="471.00" x2="72.67" y2="474.50" stroke="#000" stroke-width="2.4"/>
<line x1="108.61" y1="471.00" x2="108.61" y2="474.50" stroke="#000" stroke-width="2.4"/>
<line x1="144.55" y1="471.00" x2="144.55" y2="474.50" stroke="#000" stroke-width="2.4"/>
<line x1="180.49" y1="471.00" x2="180.49" y2="474.50" stroke="#000" stroke-width="2.4"/>
<line x1="216.43" y1="471.00" x2="216.43" y2="474.50" stroke="#000" stroke-width="2.4"/>
<line x1="252.37" y1="471.00" x2="252.37" y2="474.50" stroke="#000" stroke-width="2.4"/>
<line x1="288.31" y1="471.00" x2="288.31" y2="474.50" stroke="#000" stroke-width="2.4"/>
<text x="44.67" y="487.17" font-size="11.14" font-weight="bold" fill="#111" textLength="20.45" lengthAdjust="spacingAndGlyphs" >538</text>
<text x="80.61" y="487.17" font-size="11.14" font-weight="bold" fill="#111" textLength="20.52" lengthAdjust="spacingAndGlyphs" >536</text>
<text x="116.56" y="487.17" font-size="11.14" font-weight="bold" fill="#111" textLength="20.14" lengthAdjust="spacingAndGlyphs" >534</text>
<text x="152.49" y="487.17" font-size="11.14" font-weight="bold" fill="#111" textLength="20.57" lengthAdjust="spacingAndGlyphs" >532</text>
<text x="188.43" y="487.17" font-size="11.14" font-weight="bold" fill="#111" textLength="20.59" lengthAdjust="spacingAndGlyphs" >530</text>
<text x="224.37" y="487.19" font-size="11.16" font-weight="bold" fill="#111" textLength="20.45" lengthAdjust="spacingAndGlyphs" >528</text>
<text x="260.31" y="487.19" font-size="11.16" font-weight="bold" fill="#111" textLength="20.52" lengthAdjust="spacingAndGlyphs" >526</text>
<text x="296.26" y="487.19" font-size="11.16" font-weight="bold" fill="#111" textLength="20.14" lengthAdjust="spacingAndGlyphs" >524</text>
<text transform="translate(16.02,428.96) rotate(-90)" x="0" y="0" font-size="16.52" font-weight="bold" fill="#111" textLength="102.16" lengthAdjust="spacingAndGlyphs">Intensity (a.u.)</text>
<text x="91.26" y="509.56" font-size="13.88" font-weight="bold" fill="#111" textLength="160.48" lengthAdjust="spacingAndGlyphs" >Binding energy (eV)</text>
<text x="53.81" y="307.85" font-size="15.40" font-weight="bold" fill="#111" textLength="31.78" lengthAdjust="spacingAndGlyphs" >O1s</text>
<text x="270.63" y="302.74" font-size="20.06" font-weight="bold" fill="#111" textLength="18.94" lengthAdjust="spacingAndGlyphs" >(c)</text>
<polyline points="74.50,438.58 75.50,438.60 76.50,438.63 77.50,438.65 78.49,438.67 79.49,438.69 80.49,438.70 81.49,438.72 82.49,438.73 83.49,438.74 84.49,438.75 85.49,438.75 86.48,438.75 87.48,438.75 88.48,438.74 89.48,438.72 90.48,438.70 91.48,438.67 92.48,438.63 93.47,438.58 94.47,438.51 95.47,438.44 96.47,438.35 97.47,438.24 98.47,438.12 99.47,437.97 100.47,437.80 101.46,437.61 102.46,437.39 103.46,437.14 104.46,436.86 105.46,436.54 106.46,436.18 107.46,435.78 108.45,435.33 109.45,434.83 110.45,434.28 111.45,433.68 112.45,433.01 113.45,432.28 114.45,431.49 115.45,430.62 116.44,429.68 117.44,428.66 118.44,427.57 119.44,426.39 120.44,425.13 121.44,423.79 122.44,422.36 123.43,420.84 124.43,419.23 125.43,417.54 126.43,415.76 127.43,413.90 128.43,411.95 129.43,409.92 130.43,407.82 131.42,405.65 132.42,403.41 133.42,401.11 134.42,398.76 135.42,396.35 136.42,393.91 137.42,391.43 138.41,388.92 139.41,386.39 140.41,383.86 141.41,381.32 142.41,378.78 143.41,376.26 144.41,373.75 145.41,371.26 146.40,368.81 147.40,366.39 148.40,364.00 149.40,361.66 150.40,359.35 151.40,357.09 152.40,354.87 153.39,352.69 154.39,350.56 155.39,348.46 156.39,346.40 157.39,344.37 158.39,342.38 159.39,340.42 160.39,338.49 161.38,336.60 162.38,334.73 163.38,332.91 164.38,331.12 165.38,329.37 166.38,327.68 167.38,326.04 168.37,324.47 169.37,322.98 170.37,321.57 171.37,320.26 172.37,319.05 173.37,317.96 174.37,316.99 175.37,316.14 176.36,315.44 177.36,314.86 178.36,314.43 179.36,314.13 180.36,313.96 181.36,313.92 182.36,313.99 183.35,314.17 184.35,314.45 185.35,314.81 186.35,315.23 187.35,315.72 188.35,316.24 189.35,316.79 190.35,317.37 191.34,317.94 192.34,318.52 193.34,319.09 194.34,319.65 195.34,320.19 196.34,320.71 197.34,321.22 198.33,321.72 199.33,322.21 200.33,322.70 201.33,323.20 202.33,323.72 203.33,324.26 204.33,324.83 205.33,325.44 206.32,326.10 207.32,326.82 208.32,327.61 209.32,328.48 210.32,329.42 211.32,330.45 212.32,331.57 213.31,332.78 214.31,334.09 215.31,335.49 216.31,336.99 217.31,338.59 218.31,340.28 219.31,342.06 220.31,343.92 221.30,345.87 222.30,347.90 223.30,350.01 224.30,352.18 225.30,354.41 226.30,356.70 227.30,359.05 228.29,361.43 229.29,363.85 230.29,366.30 231.29,368.77 232.29,371.26 233.29,373.76 234.29,376.26 235.29,378.75 236.28,381.24 237.28,383.71 238.28,386.16 239.28,388.58 240.28,390.97 241.28,393.33 242.28,395.64 243.27,397.91 244.27,400.13 245.27,402.30 246.27,404.41 247.27,406.47 248.27,408.46 249.27,410.40 250.27,412.27 251.26,414.08 252.26,415.82 253.26,417.49 254.26,419.10 255.26,420.65 256.26,422.12 257.26,423.53 258.25,424.88 259.25,426.16 260.25,427.38 261.25,428.54 262.25,429.64 263.25,430.67 264.25,431.66 265.25,432.58 266.24,433.45 267.24,434.27 268.24,435.04 269.24,435.77 270.24,436.44 271.24,437.08 272.24,437.67 273.23,438.22 274.23,438.74 275.23,439.22 276.23,439.66 277.23,440.08 278.23,440.46 279.23,440.82 280.23,441.15 281.22,441.45 282.22,441.73 283.22,441.99 284.22,442.23 285.22,442.46 286.22,442.66 287.22,442.85 288.21,443.02 289.21,443.18 290.21,443.33 291.21,443.47 292.21,443.59 293.21,443.71 294.21,443.82 295.21,443.92 296.20,444.01 297.20,444.09 298.20,444.17 299.20,444.24" fill="none" stroke="#000" stroke-width="3" stroke-linejoin="round" stroke-linecap="round"/>
<polyline points="110.00,439.80 110.99,439.83 111.99,439.85 112.98,439.88 113.98,439.91 114.97,439.93 115.96,439.96 116.96,439.98 117.95,440.01 118.95,440.04 119.94,440.06 120.94,440.09 121.93,440.12 122.92,440.14 123.92,440.17 124.91,440.19 125.91,440.22 126.90,440.25 127.89,440.27 128.89,440.30 129.88,440.33 130.88,440.35 131.87,440.38 132.87,440.41 133.86,440.43 134.85,440.46 135.85,440.48 136.84,440.51 137.84,440.54 138.83,440.56 139.82,440.59 140.82,440.62 141.81,440.64 142.81,440.67 143.80,440.69 144.80,440.72 145.79,440.75 146.78,440.77 147.78,440.80 148.77,440.83 149.77,440.85 150.76,440.88 151.75,440.91 152.75,440.93 153.74,440.96 154.74,440.98 155.73,441.01 156.73,441.04 157.72,441.06 158.71,441.09 159.71,441.12 160.70,441.14 161.70,441.17 162.69,441.19 163.68,441.22 164.68,441.25 165.67,441.27 166.67,441.30 167.66,441.33 168.65,441.35 169.65,441.38 170.64,441.41 171.64,441.43 172.63,441.46 173.63,441.48 174.62,441.51 175.61,441.54 176.61,441.56 177.60,441.59 178.60,441.62 179.59,441.64 180.58,441.67 181.58,441.69 182.57,441.72 183.57,441.75 184.56,441.77 185.56,441.80 186.55,441.83 187.54,441.85 188.54,441.88 189.53,441.91 190.53,441.93 191.52,441.96 192.51,441.98 193.51,442.01 194.50,442.04 195.50,442.06 196.49,442.09 197.49,442.12 198.48,442.14 199.47,442.17 200.47,442.19 201.46,442.22 202.46,442.25 203.45,442.27 204.44,442.30 205.44,442.33 206.43,442.35 207.43,442.38 208.42,442.41 209.42,442.43 210.41,442.46 211.40,442.48 212.40,442.51 213.39,442.54 214.39,442.56 215.38,442.59 216.37,442.62 217.37,442.64 218.36,442.67 219.36,442.69 220.35,442.72 221.35,442.75 222.34,442.77 223.33,442.80 224.33,442.83 225.32,442.85 226.32,442.88 227.31,442.91 228.30,442.93 229.30,442.96 230.29,442.98 231.29,443.01 232.28,443.04 233.27,443.06 234.27,443.09 235.26,443.12 236.26,443.14 237.25,443.17 238.25,443.19 239.24,443.22 240.23,443.25 241.23,443.27 242.22,443.30 243.22,443.33 244.21,443.35 245.20,443.38 246.20,443.41 247.19,443.43 248.19,443.46 249.18,443.48 250.18,443.51 251.17,443.54 252.16,443.56 253.16,443.59 254.15,443.62 255.15,443.64 256.14,443.67 257.13,443.69 258.13,443.72 259.12,443.75 260.12,443.77 261.11,443.80 262.11,443.83 263.10,443.85 264.09,443.88 265.09,443.91 266.08,443.93 267.08,443.96 268.07,443.98 269.06,444.01 270.06,444.04 271.05,444.06 272.05,444.09 273.04,444.12 274.04,444.14 275.03,444.17 276.02,444.19 277.02,444.22 278.01,444.25 279.01,444.27 280.00,444.30" fill="none" stroke="#ff0000" stroke-width="3" stroke-linejoin="round" stroke-linecap="round"/>
<polyline points="74.50,438.24 75.50,438.26 76.50,438.28 77.50,438.30 78.49,438.33 79.49,438.35 80.49,438.37 81.49,438.39 82.49,438.41 83.49,438.43 84.49,438.45 85.49,438.47 86.48,438.49 87.48,438.51 88.48,438.53 89.48,438.55 90.48,438.57 91.48,438.59 92.48,438.61 93.47,438.63 94.47,438.65 95.47,438.67 96.47,438.69 97.47,438.71 98.47,438.73 99.47,438.74 100.47,438.76 101.46,438.78 102.46,438.80 103.46,438.82 104.46,438.83 105.46,438.85 106.46,438.87 107.46,438.88 108.45,438.90 109.45,438.92 110.45,438.93 111.45,438.95 112.45,438.96 113.45,438.98 114.45,438.99 115.45,439.00 116.44,439.02 117.44,439.03 118.44,439.04 119.44,439.06 120.44,439.07 121.44,439.08 122.44,439.09 123.43,439.10 124.43,439.11 125.43,439.12 126.43,439.13 127.43,439.14 128.43,439.15 129.43,439.15 130.43,439.16 131.42,439.16 132.42,439.17 133.42,439.17 134.42,439.17 135.42,439.17 136.42,439.17 137.42,439.16 138.41,439.16 139.41,439.15 140.41,439.14 141.41,439.13 142.41,439.11 143.41,439.09 144.41,439.07 145.41,439.04 146.40,439.00 147.40,438.96 148.40,438.92 149.40,438.86 150.40,438.80 151.40,438.73 152.40,438.65 153.39,438.56 154.39,438.45 155.39,438.33 156.39,438.19 157.39,438.04 158.39,437.86 159.39,437.66 160.39,437.44 161.38,437.20 162.38,436.92 163.38,436.61 164.38,436.27 165.38,435.89 166.38,435.47 167.38,435.01 168.37,434.49 169.37,433.93 170.37,433.32 171.37,432.65 172.37,431.92 173.37,431.12 174.37,430.26 175.37,429.32 176.36,428.32 177.36,427.24 178.36,426.07 179.36,424.83 180.36,423.51 181.36,422.10 182.36,420.60 183.35,419.02 184.35,417.35 185.35,415.60 186.35,413.76 187.35,411.84 188.35,409.84 189.35,407.77 190.35,405.62 191.34,403.41 192.34,401.13 193.34,398.80 194.34,396.43 195.34,394.01 196.34,391.57 197.34,389.11 198.33,386.63 199.33,384.17 200.33,381.71 201.33,379.29 202.33,376.90 203.33,374.57 204.33,372.31 205.33,370.13 206.32,368.04 207.32,366.08 208.32,364.23 209.32,362.53 210.32,360.98 211.32,359.61 212.32,358.41 213.31,357.40 214.31,356.59 215.31,355.99 216.31,355.60 217.31,355.43 218.31,355.48 219.31,355.71 220.31,356.14 221.30,356.75 222.30,357.55 223.30,358.51 224.30,359.65 225.30,360.94 226.30,362.38 227.30,363.97 228.29,365.67 229.29,367.50 230.29,369.43 231.29,371.45 232.29,373.55 233.29,375.73 234.29,377.96 235.29,380.23 236.28,382.55 237.28,384.88 238.28,387.23 239.28,389.59 240.28,391.94 241.28,394.27 242.28,396.59 243.27,398.87 244.27,401.12 245.27,403.32 246.27,405.48 247.27,407.58 248.27,409.62 249.27,411.60 250.27,413.51 251.26,415.35 252.26,417.13 253.26,418.82 254.26,420.45 255.26,422.00 256.26,423.48 257.26,424.88 258.25,426.20 259.25,427.46 260.25,428.64 261.25,429.75 262.25,430.80 263.25,431.78 264.25,432.69 265.25,433.55 266.24,434.35 267.24,435.09 268.24,435.78 269.24,436.41 270.24,437.00 271.24,437.55 272.24,438.05 273.23,438.52 274.23,438.95 275.23,439.34 276.23,439.70 277.23,440.03 278.23,440.34 279.23,440.62 280.23,440.88 281.22,441.12 282.22,441.33 283.22,441.53 284.22,441.72 285.22,441.89 286.22,442.04 287.22,442.19 288.21,442.32 289.21,442.44 290.21,442.56 291.21,442.67 292.21,442.77 293.21,442.86 294.21,442.95 295.21,443.03 296.20,443.11 297.20,443.19 298.20,443.26 299.20,443.33" fill="none" stroke="#008080" stroke-width="3" stroke-linejoin="round" stroke-linecap="round"/>
<polyline points="74.50,438.60 75.50,438.62 76.50,438.65 77.50,438.68 78.49,438.70 79.49,438.73 80.49,438.75 81.49,438.78 82.49,438.80 83.49,438.83 84.49,438.85 85.49,438.88 86.48,438.90 87.48,438.92 88.48,438.94 89.48,438.96 90.48,438.98 91.48,439.00 92.48,439.01 93.47,439.03 94.47,439.04 95.47,439.05 96.47,439.06 97.47,439.06 98.47,439.06 99.47,439.05 100.47,439.04 101.46,439.03 102.46,439.00 103.46,438.97 104.46,438.93 105.46,438.88 106.46,438.82 107.46,438.75 108.45,438.66 109.45,438.56 110.45,438.44 111.45,438.30 112.45,438.14 113.45,437.95 114.45,437.74 115.45,437.50 116.44,437.23 117.44,436.93 118.44,436.58 119.44,436.20 120.44,435.77 121.44,435.30 122.44,434.77 123.43,434.19 124.43,433.55 125.43,432.84 126.43,432.07 127.43,431.23 128.43,430.32 129.43,429.32 130.43,428.25 131.42,427.09 132.42,425.83 133.42,424.49 134.42,423.05 135.42,421.52 136.42,419.89 137.42,418.15 138.41,416.32 139.41,414.38 140.41,412.35 141.41,410.21 142.41,407.97 143.41,405.64 144.41,403.22 145.41,400.70 146.40,398.11 147.40,395.44 148.40,392.69 149.40,389.89 150.40,387.03 151.40,384.12 152.40,381.18 153.39,378.22 154.39,375.25 155.39,372.28 156.39,369.32 157.39,366.39 158.39,363.51 159.39,360.67 160.39,357.91 161.38,355.24 162.38,352.66 163.38,350.20 164.38,347.86 165.38,345.66 166.38,343.62 167.38,341.74 168.37,340.04 169.37,338.53 170.37,337.22 171.37,336.11 172.37,335.21 173.37,334.53 174.37,334.07 175.37,333.84 176.36,333.84 177.36,334.06 178.36,334.51 179.36,335.18 180.36,336.07 181.36,337.18 182.36,338.49 183.35,340.01 184.35,341.71 185.35,343.59 186.35,345.65 187.35,347.85 188.35,350.21 189.35,352.69 190.35,355.29 191.34,358.00 192.34,360.79 193.34,363.66 194.34,366.59 195.34,369.56 196.34,372.56 197.34,375.58 198.33,378.61 199.33,381.63 200.33,384.63 201.33,387.60 202.33,390.52 203.33,393.40 204.33,396.21 205.33,398.96 206.32,401.63 207.32,404.22 208.32,406.72 209.32,409.13 210.32,411.45 211.32,413.66 212.32,415.78 213.31,417.80 214.31,419.71 215.31,421.53 216.31,423.24 217.31,424.85 218.31,426.37 219.31,427.79 220.31,429.12 221.30,430.36 222.30,431.51 223.30,432.58 224.30,433.57 225.30,434.49 226.30,435.33 227.30,436.10 228.29,436.81 229.29,437.46 230.29,438.06 231.29,438.60 232.29,439.10 233.29,439.54 234.29,439.95 235.29,440.32 236.28,440.65 237.28,440.95 238.28,441.22 239.28,441.47 240.28,441.69 241.28,441.89 242.28,442.07 243.27,442.23 244.27,442.37 245.27,442.50 246.27,442.62 247.27,442.72 248.27,442.82 249.27,442.91 250.27,442.99 251.26,443.06 252.26,443.12 253.26,443.18 254.26,443.24 255.26,443.29 256.26,443.34 257.26,443.38 258.25,443.43 259.25,443.46 260.25,443.50 261.25,443.54 262.25,443.57 263.25,443.61 264.25,443.64 265.25,443.67 266.24,443.70 267.24,443.73 268.24,443.76 269.24,443.79 270.24,443.82 271.24,443.85 272.24,443.87 273.23,443.90 274.23,443.93 275.23,443.96 276.23,443.98 277.23,444.01 278.23,444.04 279.23,444.07 280.23,444.09 281.22,444.12 282.22,444.15 283.22,444.17 284.22,444.20 285.22,444.23 286.22,444.25 287.22,444.28 288.21,444.31 289.21,444.33 290.21,444.36 291.21,444.39 292.21,444.41 293.21,444.44 294.21,444.47 295.21,444.49 296.20,444.52 297.20,444.55 298.20,444.57 299.20,444.60" fill="none" stroke="#ff00ff" stroke-width="3" stroke-linejoin="round" stroke-linecap="round"/>
<polyline points="74.50,438.60 75.50,438.62 76.50,438.65 77.50,438.68 78.49,438.71 79.49,438.73 80.49,438.76 81.49,438.78 82.49,438.81 83.49,438.83 84.49,438.85 85.49,438.87 86.48,438.88 87.48,438.89 88.48,438.90 89.48,438.91 90.48,438.91 91.48,438.90 92.48,438.89 93.47,438.86 94.47,438.83 95.47,438.79 96.47,438.74 97.47,438.67 98.47,438.58 99.47,438.48 100.47,438.35 101.46,438.21 102.46,438.03 103.46,437.83 104.46,437.60 105.46,437.34 106.46,437.03 107.46,436.69 108.45,436.31 109.45,435.88 110.45,435.41 111.45,434.88 112.45,434.31 113.45,433.68 114.45,433.00 115.45,432.27 116.44,431.49 117.44,430.65 118.44,429.76 119.44,428.82 120.44,427.84 121.44,426.82 122.44,425.76 123.43,424.67 124.43,423.56 125.43,422.43 126.43,421.29 127.43,420.16 128.43,419.03 129.43,417.93 130.43,416.86 131.42,415.83 132.42,414.85 133.42,413.93 134.42,413.08 135.42,412.31 136.42,411.63 137.42,411.05 138.41,410.57 139.41,410.20 140.41,409.95 141.41,409.81 142.41,409.80 143.41,409.90 144.41,410.12 145.41,410.46 146.40,410.91 147.40,411.47 148.40,412.13 149.40,412.89 150.40,413.73 151.40,414.66 152.40,415.65 153.39,416.70 154.39,417.80 155.39,418.94 156.39,420.11 157.39,421.29 158.39,422.49 159.39,423.68 160.39,424.86 161.38,426.03 162.38,427.17 163.38,428.28 164.38,429.35 165.38,430.39 166.38,431.37 167.38,432.31 168.37,433.19 169.37,434.03 170.37,434.81 171.37,435.53 172.37,436.21 173.37,436.83 174.37,437.40 175.37,437.92 176.36,438.40 177.36,438.83 178.36,439.22 179.36,439.57 180.36,439.89 181.36,440.17 182.36,440.43 183.35,440.65 184.35,440.85 185.35,441.03 186.35,441.19 187.35,441.33 188.35,441.45 189.35,441.56 190.35,441.66 191.34,441.75 192.34,441.83 193.34,441.90 194.34,441.96 195.34,442.02 196.34,442.08 197.34,442.12 198.33,442.17 199.33,442.21 200.33,442.25 201.33,442.29 202.33,442.33 203.33,442.36 204.33,442.40 205.33,442.43 206.32,442.46 207.32,442.49 208.32,442.52 209.32,442.56 210.32,442.59 211.32,442.62 212.32,442.65 213.31,442.68 214.31,442.71 215.31,442.74 216.31,442.76 217.31,442.79 218.31,442.82 219.31,442.85 220.31,442.88 221.30,442.91 222.30,442.94 223.30,442.97 224.30,443.00 225.30,443.03 226.30,443.06 227.30,443.09 228.29,443.12 229.29,443.15 230.29,443.18 231.29,443.21 232.29,443.23 233.29,443.26 234.29,443.29 235.29,443.32 236.28,443.35 237.28,443.38 238.28,443.41 239.28,443.44 240.28,443.47 241.28,443.50 242.28,443.53 243.27,443.56 244.27,443.59 245.27,443.62 246.27,443.65 247.27,443.67 248.27,443.70 249.27,443.73 250.27,443.76 251.26,443.79 252.26,443.82 253.26,443.85 254.26,443.88 255.26,443.91 256.26,443.94 257.26,443.97 258.25,444.00 259.25,444.03 260.25,444.06 261.25,444.09 262.25,444.11 263.25,444.14 264.25,444.17 265.25,444.20 266.24,444.23 267.24,444.26 268.24,444.29 269.24,444.32 270.24,444.35 271.24,444.38 272.24,444.41 273.23,444.44 274.23,444.47 275.23,444.50 276.23,444.53 277.23,444.55 278.23,444.58 279.23,444.61 280.23,444.64 281.22,444.67 282.22,444.70 283.22,444.73 284.22,444.76 285.22,444.79 286.22,444.82 287.22,444.85 288.21,444.88 289.21,444.91 290.21,444.94 291.21,444.97 292.21,444.99 293.21,445.02 294.21,445.05 295.21,445.08 296.20,445.11 297.20,445.14 298.20,445.17 299.20,445.20" fill="none" stroke="#808000" stroke-width="3" stroke-linejoin="round" stroke-linecap="round"/>
<text x="129.30" y="307.04" font-size="5.36" font-weight="bold" fill="#333" textLength="28.25" lengthAdjust="spacingAndGlyphs" >531.04eV</text>
<text x="235.18" y="335.63" font-size="6.20" font-weight="bold" fill="#333" textLength="26.57" lengthAdjust="spacingAndGlyphs" >530.5eV</text>
<text x="106.98" y="376.43" font-size="6.06" font-weight="bold" fill="#333" textLength="26.97" lengthAdjust="spacingAndGlyphs" >532.4eV</text>
<line x1="161.50" y1="304.00" x2="172.00" y2="304.00" stroke="#444" stroke-width="1" stroke-dasharray="4,2,1,2"/>
<line x1="175.80" y1="303.00" x2="175.80" y2="341.00" stroke="#444" stroke-width="1" stroke-dasharray="4,2,1,2"/>
<line x1="218.00" y1="336.30" x2="233.00" y2="336.30" stroke="#444" stroke-width="1" stroke-dasharray="4,2,1,2"/>
<line x1="217.40" y1="336.00" x2="217.40" y2="377.00" stroke="#444" stroke-width="1" stroke-dasharray="4,2,1,2"/>
<line x1="138.20" y1="372.00" x2="138.20" y2="410.00" stroke="#444" stroke-width="1" stroke-dasharray="4,2,1,2"/>
<rect x="394.6" y="271.7" width="273.69999999999993" height="204.10000000000002" fill="none" stroke="#000" stroke-width="2.6"/>
<line x1="394.70" y1="477.00" x2="394.70" y2="481.50" stroke="#000" stroke-width="2.4"/>
<line x1="449.50" y1="477.00" x2="449.50" y2="481.50" stroke="#000" stroke-width="2.4"/>
<line x1="504.30" y1="477.00" x2="504.30" y2="481.50" stroke="#000" stroke-width="2.4"/>
<line x1="559.10" y1="477.00" x2="559.10" y2="481.50" stroke="#000" stroke-width="2.4"/>
<line x1="613.90" y1="477.00" x2="613.90" y2="481.50" stroke="#000" stroke-width="2.4"/>
<line x1="668.70" y1="477.00" x2="668.70" y2="481.50" stroke="#000" stroke-width="2.4"/>
<line x1="422.10" y1="477.00" x2="422.10" y2="480.50" stroke="#000" stroke-width="2.4"/>
<line x1="476.90" y1="477.00" x2="476.90" y2="480.50" stroke="#000" stroke-width="2.4"/>
<line x1="531.70" y1="477.00" x2="531.70" y2="480.50" stroke="#000" stroke-width="2.4"/>
<line x1="586.50" y1="477.00" x2="586.50" y2="480.50" stroke="#000" stroke-width="2.4"/>
<line x1="641.30" y1="477.00" x2="641.30" y2="480.50" stroke="#000" stroke-width="2.4"/>
<text x="385.16" y="490.60" font-size="9.89" font-weight="bold" fill="#111" textLength="18.54" lengthAdjust="spacingAndGlyphs" >950</text>
<text x="439.97" y="490.60" font-size="9.89" font-weight="bold" fill="#111" textLength="18.39" lengthAdjust="spacingAndGlyphs" >945</text>
<text x="494.76" y="490.60" font-size="9.89" font-weight="bold" fill="#111" textLength="18.54" lengthAdjust="spacingAndGlyphs" >940</text>
<text x="549.57" y="490.59" font-size="9.87" font-weight="bold" fill="#111" textLength="18.39" lengthAdjust="spacingAndGlyphs" >935</text>
<text x="604.36" y="490.59" font-size="9.87" font-weight="bold" fill="#111" textLength="18.54" lengthAdjust="spacingAndGlyphs" >930</text>
<text x="659.17" y="490.60" font-size="9.89" font-weight="bold" fill="#111" textLength="18.39" lengthAdjust="spacingAndGlyphs" >925</text>
<text transform="translate(377.14,428.71) rotate(-90)" x="0" y="0" font-size="16.41" font-weight="bold" fill="#111" textLength="107.25" lengthAdjust="spacingAndGlyphs">Intensity (a.u.)</text>
<text x="448.24" y="509.56" font-size="13.88" font-weight="bold" fill="#111" textLength="165.32" lengthAdjust="spacingAndGlyphs" >Binding Energy (eV)</text>
<text x="405.80" y="298.18" font-size="14.57" font-weight="bold" fill="#111" textLength="52.42" lengthAdjust="spacingAndGlyphs" >Cu2p3</text>
<text x="639.07" y="295.46" font-size="13.20" font-weight="bold" fill="#111" textLength="16.27" lengthAdjust="spacingAndGlyphs" >(d)</text>
<polyline points="421.50,451.88 422.50,451.77 423.49,451.63 424.49,451.46 425.48,451.25 426.48,451.00 427.47,450.71 428.47,450.36 429.46,449.94 430.46,449.45 431.45,448.89 432.45,448.24 433.44,447.50 434.44,446.65 435.43,445.70 436.43,444.63 437.43,443.45 438.42,442.15 439.42,440.73 440.41,439.18 441.41,437.52 442.40,435.75 443.40,433.88 444.39,431.92 445.39,429.87 446.38,427.77 447.38,425.61 448.37,423.42 449.37,421.22 450.37,419.03 451.36,416.87 452.36,414.76 453.35,412.72 454.35,410.75 455.34,408.89 456.34,407.13 457.33,405.49 458.33,403.98 459.32,402.59 460.32,401.33 461.31,400.20 462.31,399.18 463.30,398.28 464.30,397.48 465.30,396.77 466.29,396.14 467.29,395.58 468.28,395.08 469.28,394.63 470.27,394.23 471.27,393.86 472.26,393.52 473.26,393.21 474.25,392.94 475.25,392.70 476.24,392.50 477.24,392.35 478.23,392.26 479.23,392.24 480.23,392.29 481.22,392.44 482.22,392.68 483.21,393.04 484.21,393.51 485.20,394.11 486.20,394.84 487.19,395.71 488.19,396.72 489.18,397.85 490.18,399.12 491.17,400.52 492.17,402.03 493.17,403.65 494.16,405.37 495.16,407.16 496.15,409.03 497.15,410.94 498.14,412.89 499.14,414.86 500.13,416.84 501.13,418.79 502.12,420.72 503.12,422.60 504.11,424.43 505.11,426.17 506.10,427.84 507.10,429.40 508.10,430.87 509.09,432.21 510.09,433.44 511.08,434.53 512.08,435.50 513.07,436.33 514.07,437.02 515.06,437.56 516.06,437.97 517.05,438.23 518.05,438.35 519.04,438.32 520.04,438.15 521.03,437.83 522.03,437.37 523.03,436.76 524.02,436.01 525.02,435.12 526.01,434.08 527.01,432.89 528.00,431.55 529.00,430.05 529.99,428.41 530.99,426.60 531.98,424.64 532.98,422.51 533.97,420.21 534.97,417.74 535.97,415.09 536.96,412.27 537.96,409.26 538.95,406.07 539.95,402.69 540.94,399.13 541.94,395.39 542.93,391.46 543.93,387.36 544.92,383.09 545.92,378.65 546.91,374.07 547.91,369.34 548.90,364.50 549.90,359.55 550.90,354.52 551.89,349.44 552.89,344.32 553.88,339.21 554.88,334.13 555.87,329.12 556.87,324.21 557.86,319.44 558.86,314.85 559.85,310.48 560.85,306.37 561.84,302.55 562.84,299.07 563.83,295.95 564.83,293.24 565.83,290.96 566.82,289.13 567.82,287.79 568.81,286.95 569.81,286.61 570.80,286.80 571.80,287.52 572.79,288.75 573.79,290.49 574.78,292.74 575.78,295.47 576.77,298.65 577.77,302.27 578.77,306.29 579.76,310.66 580.76,315.37 581.75,320.36 582.75,325.59 583.74,331.02 584.74,336.60 585.73,342.30 586.73,348.06 587.72,353.85 588.72,359.63 589.71,365.36 590.71,371.01 591.70,376.54 592.70,381.92 593.70,387.14 594.69,392.16 595.69,396.98 596.68,401.57 597.68,405.93 598.67,410.05 599.67,413.93 600.66,417.55 601.66,420.93 602.65,424.07 603.65,426.97 604.64,429.64 605.64,432.08 606.63,434.31 607.63,436.35 608.63,438.19 609.62,439.85 610.62,441.34 611.61,442.68 612.61,443.88 613.60,444.95 614.60,445.89 615.59,446.73 616.59,447.47 617.58,448.12 618.58,448.69 619.57,449.19 620.57,449.62 621.57,450.00 622.56,450.33 623.56,450.61 624.55,450.86 625.55,451.07 626.54,451.25 627.54,451.41 628.53,451.54 629.53,451.66 630.52,451.76 631.52,451.84 632.51,451.91 633.51,451.97 634.50,452.02 635.50,452.07" fill="none" stroke="#000" stroke-width="2" stroke-linejoin="round" stroke-linecap="round"/>
<polyline points="470.00,452.30 471.00,452.30 471.99,452.30 472.99,452.30 473.99,452.30 474.98,452.30 475.98,452.30 476.98,452.30 477.98,452.30 478.97,452.30 479.97,452.30 480.97,452.30 481.96,452.30 482.96,452.30 483.96,452.30 484.95,452.30 485.95,452.30 486.95,452.30 487.95,452.30 488.94,452.30 489.94,452.30 490.94,452.30 491.93,452.30 492.93,452.30 493.93,452.29 494.92,452.29 495.92,452.29 496.92,452.29 497.92,452.28 498.91,452.28 499.91,452.27 500.91,452.26 501.90,452.25 502.90,452.24 503.90,452.22 504.89,452.21 505.89,452.18 506.89,452.15 507.89,452.12 508.88,452.07 509.88,452.02 510.88,451.95 511.87,451.88 512.87,451.78 513.87,451.67 514.86,451.53 515.86,451.37 516.86,451.18 517.86,450.96 518.85,450.70 519.85,450.39 520.85,450.02 521.84,449.60 522.84,449.12 523.84,448.55 524.83,447.91 525.83,447.17 526.83,446.32 527.83,445.36 528.82,444.28 529.82,443.05 530.82,441.68 531.81,440.14 532.81,438.43 533.81,436.53 534.80,434.43 535.80,432.12 536.80,429.60 537.80,426.84 538.79,423.85 539.79,420.62 540.79,417.13 541.78,413.41 542.78,409.43 543.78,405.21 544.77,400.75 545.77,396.06 546.77,391.16 547.77,386.06 548.76,380.77 549.76,375.34 550.76,369.77 551.75,364.10 552.75,358.37 553.75,352.61 554.74,346.87 555.74,341.17 556.74,335.56 557.73,330.10 558.73,324.82 559.73,319.76 560.73,314.98 561.72,310.51 562.72,306.41 563.72,302.70 564.71,299.42 565.71,296.60 566.71,294.28 567.70,292.48 568.70,291.20 569.70,290.48 570.70,290.31 571.69,290.70 572.69,291.64 573.69,293.12 574.68,295.13 575.68,297.65 576.68,300.65 577.67,304.10 578.67,307.98 579.67,312.23 580.67,316.82 581.66,321.72 582.66,326.86 583.66,332.22 584.65,337.75 585.65,343.40 586.65,349.12 587.64,354.88 588.64,360.63 589.64,366.34 590.64,371.97 591.63,377.49 592.63,382.87 593.63,388.08 594.62,393.11 595.62,397.93 596.62,402.53 597.61,406.89 598.61,411.02 599.61,414.90 600.61,418.53 601.60,421.91 602.60,425.05 603.60,427.95 604.59,430.62 605.59,433.05 606.59,435.28 607.58,437.30 608.58,439.12 609.58,440.76 610.58,442.24 611.57,443.55 612.57,444.72 613.57,445.75 614.56,446.67 615.56,447.47 616.56,448.17 617.55,448.79 618.55,449.32 619.55,449.78 620.55,450.17 621.54,450.51 622.54,450.80 623.54,451.05 624.53,451.26 625.53,451.44 626.53,451.59 627.52,451.72 628.52,451.82 629.52,451.91 630.52,451.98 631.51,452.04 632.51,452.09 633.51,452.13 634.50,452.16 635.50,452.19" fill="none" stroke="#008080" stroke-width="2" stroke-linejoin="round" stroke-linecap="round"/>
<polyline points="421.50,452.30 422.50,452.30 423.49,452.30 424.49,452.30 425.48,452.30 426.48,452.30 427.47,452.30 428.47,452.30 429.46,452.30 430.46,452.30 431.45,452.30 432.45,452.30 433.44,452.30 434.44,452.30 435.43,452.30 436.43,452.30 437.43,452.30 438.42,452.30 439.42,452.30 440.41,452.30 441.41,452.30 442.40,452.30 443.40,452.30 444.39,452.30 445.39,452.30 446.38,452.30 447.38,452.30 448.37,452.30 449.37,452.30 450.37,452.30 451.36,452.30 452.36,452.30 453.35,452.30 454.35,452.30 455.34,452.30 456.34,452.30 457.33,452.30 458.33,452.30 459.32,452.30 460.32,452.30 461.31,452.30 462.31,452.30 463.30,452.30 464.30,452.30 465.30,452.30 466.29,452.30 467.29,452.30 468.28,452.30 469.28,452.30 470.27,452.30 471.27,452.30 472.26,452.30 473.26,452.30 474.25,452.30 475.25,452.30 476.24,452.30 477.24,452.30 478.23,452.30 479.23,452.30 480.23,452.30 481.22,452.30 482.22,452.30 483.21,452.30 484.21,452.30 485.20,452.30 486.20,452.30 487.19,452.30 488.19,452.30 489.18,452.30 490.18,452.30 491.17,452.30 492.17,452.30 493.17,452.30 494.16,452.30 495.16,452.30 496.15,452.30 497.15,452.30 498.14,452.30 499.14,452.30 500.13,452.30 501.13,452.30 502.12,452.30 503.12,452.30 504.11,452.30 505.11,452.30 506.10,452.30 507.10,452.30 508.10,452.30 509.09,452.30 510.09,452.30 511.08,452.30 512.08,452.30 513.07,452.30 514.07,452.30 515.06,452.30 516.06,452.30 517.05,452.30 518.05,452.30 519.04,452.30 520.04,452.30 521.03,452.30 522.03,452.30 523.03,452.30 524.02,452.30 525.02,452.30 526.01,452.30 527.01,452.30 528.00,452.30 529.00,452.30 529.99,452.30 530.99,452.30 531.98,452.30 532.98,452.30 533.97,452.30 534.97,452.30 535.97,452.30 536.96,452.30 537.96,452.30 538.95,452.30 539.95,452.30 540.94,452.30 541.94,452.30 542.93,452.30 543.93,452.30 544.92,452.30 545.92,452.30 546.91,452.30 547.91,452.30 548.90,452.30 549.90,452.30 550.90,452.30 551.89,452.30 552.89,452.30 553.88,452.30 554.88,452.30 555.87,452.30 556.87,452.30 557.86,452.30 558.86,452.30 559.85,452.30 560.85,452.30 561.84,452.30 562.84,452.30 563.83,452.30 564.83,452.30 565.83,452.30 566.82,452.30 567.82,452.30 568.81,452.30 569.81,452.30 570.80,452.30 571.80,452.30 572.79,452.30 573.79,452.30 574.78,452.30 575.78,452.30 576.77,452.30 577.77,452.30 578.77,452.30 579.76,452.30 580.76,452.30 581.75,452.30 582.75,452.30 583.74,452.30 584.74,452.30 585.73,452.30 586.73,452.30 587.72,452.30 588.72,452.30 589.71,452.30 590.71,452.30 591.70,452.30 592.70,452.30 593.70,452.30 594.69,452.30 595.69,452.30 596.68,452.30 597.68,452.30 598.67,452.30 599.67,452.30 600.66,452.30 601.66,452.30 602.65,452.30 603.65,452.30 604.64,452.30 605.64,452.30 606.63,452.30 607.63,452.30 608.63,452.30 609.62,452.30 610.62,452.30 611.61,452.30 612.61,452.30 613.60,452.30 614.60,452.30 615.59,452.30 616.59,452.30 617.58,452.30 618.58,452.30 619.57,452.30 620.57,452.30 621.57,452.30 622.56,452.30 623.56,452.30 624.55,452.30 625.55,452.30 626.54,452.30 627.54,452.30 628.53,452.30 629.53,452.30 630.52,452.30 631.52,452.30 632.51,452.30 633.51,452.30 634.50,452.30 635.50,452.30" fill="none" stroke="#0a0a8f" stroke-width="2" stroke-linejoin="round" stroke-linecap="round"/>
<polyline points="421.50,452.02 422.50,451.94 423.49,451.86 424.49,451.75 425.49,451.62 426.49,451.46 427.48,451.27 428.48,451.05 429.48,450.78 430.47,450.47 431.47,450.11 432.47,449.68 433.47,449.19 434.46,448.63 435.46,447.99 436.46,447.26 437.46,446.43 438.45,445.51 439.45,444.48 440.45,443.34 441.44,442.08 442.44,440.71 443.44,439.22 444.44,437.62 445.43,435.90 446.43,434.07 447.43,432.14 448.42,430.12 449.42,428.02 450.42,425.86 451.42,423.64 452.41,421.41 453.41,419.16 454.41,416.93 455.41,414.75 456.40,412.62 457.40,410.60 458.40,408.69 459.39,406.92 460.39,405.32 461.39,403.91 462.39,402.71 463.38,401.74 464.38,401.01 465.38,400.53 466.37,400.31 467.37,400.36 468.37,400.67 469.37,401.23 470.36,402.05 471.36,403.10 472.36,404.38 473.35,405.85 474.35,407.51 475.35,409.33 476.35,411.29 477.34,413.35 478.34,415.50 479.34,417.70 480.34,419.94 481.33,422.18 482.33,424.42 483.33,426.61 484.32,428.76 485.32,430.83 486.32,432.82 487.32,434.71 488.31,436.51 489.31,438.19 490.31,439.75 491.30,441.20 492.30,442.53 493.30,443.75 494.30,444.85 495.29,445.84 496.29,446.73 497.29,447.52 498.28,448.22 499.28,448.83 500.28,449.37 501.28,449.84 502.27,450.24 503.27,450.58 504.27,450.88 505.27,451.13 506.26,451.34 507.26,451.52 508.26,451.67 509.25,451.79 510.25,451.89 511.25,451.97 512.25,452.04 513.24,452.09 514.24,452.14 515.24,452.17 516.23,452.20 517.23,452.22 518.23,452.24 519.23,452.25 520.22,452.27 521.22,452.27 522.22,452.28 523.22,452.28 524.21,452.29 525.21,452.29 526.21,452.29 527.20,452.30 528.20,452.30 529.20,452.30 530.20,452.30 531.19,452.30 532.19,452.30 533.19,452.30 534.18,452.30 535.18,452.30 536.18,452.30 537.18,452.30 538.17,452.30 539.17,452.30 540.17,452.30 541.16,452.30 542.16,452.30 543.16,452.30 544.16,452.30 545.15,452.30 546.15,452.30 547.15,452.30 548.15,452.30 549.14,452.30 550.14,452.30 551.14,452.30 552.13,452.30 553.13,452.30 554.13,452.30 555.13,452.30 556.12,452.30 557.12,452.30 558.12,452.30 559.11,452.30 560.11,452.30 561.11,452.30 562.11,452.30 563.10,452.30 564.10,452.30 565.10,452.30 566.09,452.30 567.09,452.30 568.09,452.30 569.09,452.30 570.08,452.30 571.08,452.30 572.08,452.30 573.08,452.30 574.07,452.30 575.07,452.30 576.07,452.30 577.06,452.30 578.06,452.30 579.06,452.30 580.06,452.30 581.05,452.30 582.05,452.30 583.05,452.30 584.04,452.30 585.04,452.30 586.04,452.30 587.04,452.30 588.03,452.30 589.03,452.30 590.03,452.30 591.03,452.30 592.02,452.30 593.02,452.30 594.02,452.30 595.01,452.30 596.01,452.30 597.01,452.30 598.01,452.30 599.00,452.30 600.00,452.30" fill="none" stroke="#0a0a8f" stroke-width="2" stroke-linejoin="round" stroke-linecap="round"/>
<polyline points="447.00,452.22 447.99,452.22 448.99,452.21 449.98,452.21 450.97,452.21 451.96,452.21 452.96,452.21 453.95,452.20 454.94,452.20 455.94,452.20 456.93,452.20 457.92,452.20 458.92,452.19 459.91,452.19 460.90,452.19 461.89,452.19 462.89,452.18 463.88,452.18 464.87,452.18 465.87,452.17 466.86,452.17 467.85,452.17 468.85,452.16 469.84,452.16 470.83,452.16 471.82,452.15 472.82,452.15 473.81,452.14 474.80,452.14 475.80,452.13 476.79,452.13 477.78,452.12 478.77,452.12 479.77,452.11 480.76,452.11 481.75,452.10 482.75,452.10 483.74,452.09 484.73,452.08 485.73,452.07 486.72,452.07 487.71,452.06 488.70,452.05 489.70,452.04 490.69,452.03 491.68,452.01 492.68,452.00 493.67,451.98 494.66,451.97 495.65,451.95 496.65,451.93 497.64,451.90 498.63,451.87 499.63,451.83 500.62,451.79 501.61,451.74 502.61,451.69 503.60,451.62 504.59,451.54 505.58,451.45 506.58,451.34 507.57,451.21 508.56,451.06 509.56,450.89 510.55,450.69 511.54,450.46 512.54,450.19 513.53,449.89 514.52,449.55 515.51,449.17 516.51,448.74 517.50,448.26 518.49,447.73 519.49,447.15 520.48,446.52 521.47,445.84 522.46,445.10 523.46,444.31 524.45,443.48 525.44,442.60 526.44,441.69 527.43,440.75 528.42,439.79 529.42,438.81 530.41,437.84 531.40,436.87 532.39,435.93 533.39,435.02 534.38,434.16 535.37,433.36 536.37,432.64 537.36,432.01 538.35,431.49 539.35,431.08 540.34,430.79 541.33,430.63 542.32,430.61 543.32,430.68 544.31,430.86 545.30,431.12 546.30,431.47 547.29,431.90 548.28,432.40 549.27,432.97 550.27,433.60 551.26,434.28 552.25,435.01 553.25,435.76 554.24,436.55 555.23,437.35 556.23,438.17 557.22,438.99 558.21,439.81 559.20,440.61 560.20,441.41 561.19,442.18 562.18,442.93 563.18,443.66 564.17,444.35 565.16,445.01 566.15,445.64 567.15,446.23 568.14,446.78 569.13,447.30 570.13,447.78 571.12,448.22 572.11,448.63 573.11,449.00 574.10,449.34 575.09,449.65 576.08,449.93 577.08,450.18 578.07,450.41 579.06,450.61 580.06,450.79 581.05,450.94 582.04,451.08 583.04,451.21 584.03,451.32 585.02,451.41 586.01,451.50 587.01,451.57 588.00,451.63" fill="none" stroke="#ff00ff" stroke-width="2" stroke-linejoin="round" stroke-linecap="round"/>
<polyline points="421.50,452.30 422.50,452.30 423.49,452.30 424.49,452.30 425.48,452.30 426.48,452.29 427.47,452.29 428.47,452.29 429.47,452.29 430.46,452.28 431.46,452.28 432.45,452.27 433.45,452.26 434.44,452.25 435.44,452.24 436.44,452.22 437.43,452.20 438.43,452.18 439.42,452.15 440.42,452.12 441.41,452.07 442.41,452.02 443.41,451.96 444.40,451.89 445.40,451.80 446.39,451.70 447.39,451.58 448.38,451.44 449.38,451.27 450.38,451.08 451.37,450.86 452.37,450.61 453.36,450.32 454.36,449.99 455.35,449.61 456.35,449.19 457.34,448.72 458.34,448.19 459.34,447.61 460.33,446.96 461.33,446.25 462.32,445.47 463.32,444.63 464.31,443.71 465.31,442.73 466.31,441.67 467.30,440.55 468.30,439.37 469.29,438.12 470.29,436.82 471.28,435.47 472.28,434.07 473.28,432.64 474.27,431.19 475.27,429.72 476.26,428.25 477.26,426.78 478.25,425.34 479.25,423.94 480.25,422.59 481.24,421.30 482.24,420.08 483.23,418.96 484.23,417.94 485.22,417.04 486.22,416.26 487.22,415.61 488.21,415.11 489.21,414.75 490.20,414.55 491.20,414.50 492.19,414.61 493.19,414.88 494.19,415.29 495.18,415.85 496.18,416.55 497.17,417.38 498.17,418.33 499.16,419.40 500.16,420.56 501.16,421.80 502.15,423.12 503.15,424.49 504.14,425.91 505.14,427.36 506.13,428.83 507.13,430.30 508.12,431.77 509.12,433.21 510.12,434.63 511.11,436.01 512.11,437.34 513.10,438.63 514.10,439.85 515.09,441.01 516.09,442.10 517.09,443.13 518.08,444.09 519.08,444.97 520.07,445.79 521.07,446.54 522.06,447.23 523.06,447.85 524.06,448.41 525.05,448.92 526.05,449.37 527.04,449.77 528.04,450.12 529.03,450.44 530.03,450.71 531.03,450.95 532.02,451.16 533.02,451.34 534.01,451.50 535.01,451.63 536.00,451.74 537.00,451.84" fill="none" stroke="#808000" stroke-width="2" stroke-linejoin="round" stroke-linecap="round"/>
<line x1="572.40" y1="276.60" x2="572.40" y2="309.40" stroke="#444" stroke-width="1" stroke-dasharray="4,2,1,2"/>
<line x1="465.80" y1="388.40" x2="465.80" y2="420.00" stroke="#444" stroke-width="1" stroke-dasharray="4,2,1,2"/>
<line x1="490.50" y1="388.40" x2="490.50" y2="437.40" stroke="#444" stroke-width="1" stroke-dasharray="4,2,1,2"/>
<text x="573.91" y="284.50" font-size="10.03" font-weight="normal" fill="#222" textLength="33.03" lengthAdjust="spacingAndGlyphs" >933 eV</text>
<text x="445.42" y="384.40" font-size="9.75" font-weight="normal" fill="#222" textLength="32.63" lengthAdjust="spacingAndGlyphs" >943 eV</text>
<text x="487.82" y="384.40" font-size="9.75" font-weight="normal" fill="#222" textLength="32.32" lengthAdjust="spacingAndGlyphs" >941 eV</text>
<text x="544.61" y="426.11" font-size="9.60" font-weight="normal" fill="#222" textLength="33.03" lengthAdjust="spacingAndGlyphs" >936 eV</text>
<rect x="177.5" y="535" width="278.4" height="173.79999999999995" fill="none" stroke="#000" stroke-width="2.6"/>
<line x1="177.30" y1="710.00" x2="177.30" y2="714.50" stroke="#000" stroke-width="2.4"/>
<line x1="210.10" y1="710.00" x2="210.10" y2="714.50" stroke="#000" stroke-width="2.4"/>
<line x1="242.90" y1="710.00" x2="242.90" y2="714.50" stroke="#000" stroke-width="2.4"/>
<line x1="275.70" y1="710.00" x2="275.70" y2="714.50" stroke="#000" stroke-width="2.4"/>
<line x1="308.50" y1="710.00" x2="308.50" y2="714.50" stroke="#000" stroke-width="2.4"/>
<line x1="341.30" y1="710.00" x2="341.30" y2="714.50" stroke="#000" stroke-width="2.4"/>
<line x1="374.10" y1="710.00" x2="374.10" y2="714.50" stroke="#000" stroke-width="2.4"/>
<line x1="406.90" y1="710.00" x2="406.90" y2="714.50" stroke="#000" stroke-width="2.4"/>
<line x1="439.70" y1="710.00" x2="439.70" y2="714.50" stroke="#000" stroke-width="2.4"/>
<line x1="193.70" y1="710.00" x2="193.70" y2="713.50" stroke="#000" stroke-width="2.4"/>
<line x1="226.50" y1="710.00" x2="226.50" y2="713.50" stroke="#000" stroke-width="2.4"/>
<line x1="259.30" y1="710.00" x2="259.30" y2="713.50" stroke="#000" stroke-width="2.4"/>
<line x1="292.10" y1="710.00" x2="292.10" y2="713.50" stroke="#000" stroke-width="2.4"/>
<line x1="324.90" y1="710.00" x2="324.90" y2="713.50" stroke="#000" stroke-width="2.4"/>
<line x1="357.70" y1="710.00" x2="357.70" y2="713.50" stroke="#000" stroke-width="2.4"/>
<line x1="390.50" y1="710.00" x2="390.50" y2="713.50" stroke="#000" stroke-width="2.4"/>
<line x1="423.30" y1="710.00" x2="423.30" y2="713.50" stroke="#000" stroke-width="2.4"/>
<text x="166.51" y="723.50" font-size="9.30" font-weight="bold" fill="#111" textLength="20.85" lengthAdjust="spacingAndGlyphs" >174</text>
<text x="199.30" y="723.50" font-size="9.17" font-weight="bold" fill="#111" textLength="21.32" lengthAdjust="spacingAndGlyphs" >172</text>
<text x="232.09" y="723.41" font-size="9.04" font-weight="bold" fill="#111" textLength="21.33" lengthAdjust="spacingAndGlyphs" >170</text>
<text x="264.90" y="723.41" font-size="9.04" font-weight="bold" fill="#111" textLength="21.19" lengthAdjust="spacingAndGlyphs" >168</text>
<text x="297.70" y="723.41" font-size="9.04" font-weight="bold" fill="#111" textLength="21.26" lengthAdjust="spacingAndGlyphs" >166</text>
<text x="330.51" y="723.41" font-size="9.04" font-weight="bold" fill="#111" textLength="20.85" lengthAdjust="spacingAndGlyphs" >164</text>
<text x="363.30" y="723.41" font-size="9.04" font-weight="bold" fill="#111" textLength="21.32" lengthAdjust="spacingAndGlyphs" >162</text>
<text x="396.09" y="723.41" font-size="9.04" font-weight="bold" fill="#111" textLength="21.33" lengthAdjust="spacingAndGlyphs" >160</text>
<text x="428.90" y="723.41" font-size="9.04" font-weight="bold" fill="#111" textLength="21.19" lengthAdjust="spacingAndGlyphs" >158</text>
<text transform="translate(156.01,671.56) rotate(-90)" x="0" y="0" font-size="17.06" font-weight="bold" fill="#111" textLength="91.98" lengthAdjust="spacingAndGlyphs">Intensity (a.u.)</text>
<text x="233.63" y="743.54" font-size="12.07" font-weight="bold" fill="#111" textLength="165.34" lengthAdjust="spacingAndGlyphs" >Binding energy (eV)</text>
<text x="191.90" y="566.36" font-size="12.25" font-weight="bold" fill="#111" textLength="31.81" lengthAdjust="spacingAndGlyphs" >S2p</text>
<text x="419.60" y="562.39" font-size="16.41" font-weight="bold" fill="#111" textLength="21.99" lengthAdjust="spacingAndGlyphs" >(e)</text>
<polyline points="209.50,694.56 210.50,694.62 211.50,694.68 212.51,694.74 213.51,694.80 214.51,694.86 215.51,694.93 216.52,694.99 217.52,695.04 218.52,695.10 219.52,695.16 220.53,695.21 221.53,695.25 222.53,695.30 223.53,695.34 224.53,695.37 225.54,695.40 226.54,695.42 227.54,695.43 228.54,695.44 229.55,695.44 230.55,695.43 231.55,695.42 232.55,695.39 233.56,695.36 234.56,695.31 235.56,695.25 236.56,695.19 237.56,695.11 238.57,695.02 239.57,694.91 240.57,694.80 241.57,694.67 242.58,694.52 243.58,694.36 244.58,694.19 245.58,694.00 246.59,693.79 247.59,693.57 248.59,693.33 249.59,693.07 250.59,692.79 251.60,692.50 252.60,692.18 253.60,691.85 254.60,691.49 255.61,691.12 256.61,690.72 257.61,690.31 258.61,689.87 259.62,689.40 260.62,688.92 261.62,688.41 262.62,687.88 263.62,687.32 264.63,686.73 265.63,686.11 266.63,685.44 267.63,684.73 268.64,683.96 269.64,683.14 270.64,682.26 271.64,681.31 272.65,680.28 273.65,679.17 274.65,677.98 275.65,676.69 276.65,675.31 277.66,673.83 278.66,672.24 279.66,670.56 280.66,668.78 281.67,666.91 282.67,664.96 283.67,662.94 284.67,660.86 285.68,658.71 286.68,656.51 287.68,654.26 288.68,651.97 289.68,649.65 290.69,647.29 291.69,644.92 292.69,642.52 293.69,640.12 294.70,637.70 295.70,635.28 296.70,632.87 297.70,630.46 298.71,628.06 299.71,625.68 300.71,623.32 301.71,620.97 302.71,618.61 303.72,616.22 304.72,613.80 305.72,611.34 306.72,608.85 307.73,606.37 308.73,603.90 309.73,601.47 310.73,599.10 311.74,596.80 312.74,594.60 313.74,592.52 314.74,590.55 315.74,588.70 316.75,586.98 317.75,585.39 318.75,583.95 319.75,582.64 320.76,581.49 321.76,580.49 322.76,579.66 323.76,578.99 324.76,578.49 325.77,578.17 326.77,578.03 327.77,578.08 328.77,578.32 329.78,578.77 330.78,579.42 331.78,580.27 332.78,581.34 333.79,582.61 334.79,584.06 335.79,585.69 336.79,587.48 337.79,589.42 338.80,591.51 339.80,593.72 340.80,596.06 341.80,598.50 342.81,601.04 343.81,603.67 344.81,606.37 345.81,609.13 346.82,611.94 347.82,614.80 348.82,617.68 349.82,620.58 350.82,623.50 351.83,626.42 352.83,629.34 353.83,632.24 354.83,635.13 355.84,637.99 356.84,640.82 357.84,643.61 358.84,646.35 359.85,649.03 360.85,651.65 361.85,654.19 362.85,656.66 363.85,659.04 364.86,661.33 365.86,663.51 366.86,665.60 367.86,667.58 368.87,669.47 369.87,671.27 370.87,672.98 371.87,674.60 372.88,676.14 373.88,677.59 374.88,678.96 375.88,680.26 376.88,681.48 377.89,682.62 378.89,683.70 379.89,684.71 380.89,685.65 381.90,686.53 382.90,687.35 383.90,688.11 384.90,688.81 385.91,689.47 386.91,690.07 387.91,690.63 388.91,691.13 389.91,691.60 390.92,692.03 391.92,692.42 392.92,692.77 393.92,693.09 394.93,693.38 395.93,693.64 396.93,693.87 397.93,694.08 398.94,694.26 399.94,694.43 400.94,694.57 401.94,694.70 402.94,694.81 403.95,694.90 404.95,694.99 405.95,695.06 406.95,695.12 407.96,695.18 408.96,695.23 409.96,695.28 410.96,695.33 411.97,695.38 412.97,695.43 413.97,695.48 414.97,695.54 415.97,695.61 416.98,695.68 417.98,695.77 418.98,695.87 419.98,695.98 420.99,696.12 421.99,696.26 422.99,696.44 423.99,696.63 425.00,696.84 426.00,697.08 427.00,697.35" fill="none" stroke="#000" stroke-width="3" stroke-linejoin="round" stroke-linecap="round"/>
<polyline points="209.50,696.00 210.50,696.01 211.50,696.02 212.49,696.03 213.49,696.04 214.49,696.05 215.49,696.06 216.49,696.06 217.49,696.07 218.48,696.08 219.48,696.09 220.48,696.10 221.48,696.11 222.48,696.12 223.47,696.13 224.47,696.14 225.47,696.15 226.47,696.16 227.47,696.17 228.47,696.17 229.46,696.18 230.46,696.19 231.46,696.20 232.46,696.21 233.46,696.22 234.45,696.23 235.45,696.24 236.45,696.25 237.45,696.26 238.45,696.27 239.44,696.28 240.44,696.28 241.44,696.29 242.44,696.30 243.44,696.31 244.44,696.32 245.43,696.33 246.43,696.34 247.43,696.35 248.43,696.36 249.43,696.37 250.42,696.38 251.42,696.39 252.42,696.39 253.42,696.40 254.42,696.41 255.42,696.42 256.41,696.43 257.41,696.44 258.41,696.45 259.41,696.46 260.41,696.47 261.40,696.48 262.40,696.49 263.40,696.50 264.40,696.50 265.40,696.51 266.40,696.52 267.39,696.53 268.39,696.54 269.39,696.55 270.39,696.56 271.39,696.57 272.38,696.58 273.38,696.59 274.38,696.60 275.38,696.61 276.38,696.61 277.38,696.62 278.37,696.63 279.37,696.64 280.37,696.65 281.37,696.66 282.37,696.67 283.36,696.68 284.36,696.69 285.36,696.70 286.36,696.71 287.36,696.72 288.36,696.72 289.35,696.73 290.35,696.74 291.35,696.75 292.35,696.76 293.35,696.77 294.34,696.78 295.34,696.79 296.34,696.80 297.34,696.81 298.34,696.82 299.33,696.83 300.33,696.83 301.33,696.84 302.33,696.85 303.33,696.86 304.33,696.87 305.32,696.88 306.32,696.89 307.32,696.90 308.32,696.91 309.32,696.92 310.31,696.93 311.31,696.94 312.31,696.94 313.31,696.95 314.31,696.96 315.31,696.97 316.30,696.98 317.30,696.99 318.30,697.00 319.30,697.01 320.30,697.02 321.29,697.03 322.29,697.04 323.29,697.05 324.29,697.06 325.29,697.06 326.29,697.07 327.28,697.08 328.28,697.09 329.28,697.10 330.28,697.11 331.28,697.12 332.27,697.13 333.27,697.14 334.27,697.15 335.27,697.16 336.27,697.17 337.27,697.17 338.26,697.18 339.26,697.19 340.26,697.20 341.26,697.21 342.26,697.22 343.25,697.23 344.25,697.24 345.25,697.25 346.25,697.26 347.25,697.27 348.24,697.28 349.24,697.28 350.24,697.29 351.24,697.30 352.24,697.31 353.24,697.32 354.23,697.33 355.23,697.34 356.23,697.35 357.23,697.36 358.23,697.37 359.22,697.38 360.22,697.39 361.22,697.39 362.22,697.40 363.22,697.41 364.22,697.42 365.21,697.43 366.21,697.44 367.21,697.45 368.21,697.46 369.21,697.47 370.20,697.48 371.20,697.49 372.20,697.50 373.20,697.50 374.20,697.51 375.20,697.52 376.19,697.53 377.19,697.54 378.19,697.55 379.19,697.56 380.19,697.57 381.18,697.58 382.18,697.59 383.18,697.60 384.18,697.61 385.18,697.61 386.18,697.62 387.17,697.63 388.17,697.64 389.17,697.65 390.17,697.66 391.17,697.67 392.16,697.68 393.16,697.69 394.16,697.70 395.16,697.71 396.16,697.72 397.16,697.72 398.15,697.73 399.15,697.74 400.15,697.75 401.15,697.76 402.15,697.77 403.14,697.78 404.14,697.79 405.14,697.80 406.14,697.81 407.14,697.82 408.13,697.83 409.13,697.83 410.13,697.84 411.13,697.85 412.13,697.86 413.13,697.87 414.12,697.88 415.12,697.89 416.12,697.90 417.12,697.91 418.12,697.92 419.11,697.93 420.11,697.94 421.11,697.94 422.11,697.95 423.11,697.96 424.11,697.97 425.10,697.98 426.10,697.99 427.10,698.00" fill="none" stroke="#ff0000" stroke-width="3" stroke-linejoin="round" stroke-linecap="round"/>
<polyline points="209.50,694.30 210.50,694.31 211.50,694.33 212.49,694.34 213.49,694.36 214.49,694.37 215.49,694.39 216.49,694.40 217.49,694.41 218.48,694.43 219.48,694.44 220.48,694.46 221.48,694.47 222.48,694.48 223.47,694.50 224.47,694.51 225.47,694.53 226.47,694.54 227.47,694.56 228.47,694.57 229.46,694.58 230.46,694.60 231.46,694.61 232.46,694.63 233.46,694.64 234.45,694.66 235.45,694.67 236.45,694.68 237.45,694.70 238.45,694.71 239.44,694.73 240.44,694.74 241.44,694.75 242.44,694.77 243.44,694.78 244.44,694.80 245.43,694.81 246.43,694.83 247.43,694.84 248.43,694.85 249.43,694.87 250.42,694.88 251.42,694.90 252.42,694.91 253.42,694.92 254.42,694.94 255.42,694.95 256.41,694.96 257.41,694.98 258.41,694.99 259.41,695.00 260.41,695.01 261.40,695.02 262.40,695.04 263.40,695.05 264.40,695.05 265.40,695.06 266.40,695.07 267.39,695.07 268.39,695.07 269.39,695.07 270.39,695.07 271.39,695.07 272.38,695.05 273.38,695.04 274.38,695.02 275.38,694.99 276.38,694.96 277.38,694.91 278.37,694.86 279.37,694.79 280.37,694.72 281.37,694.62 282.37,694.51 283.36,694.38 284.36,694.23 285.36,694.05 286.36,693.85 287.36,693.61 288.36,693.34 289.35,693.03 290.35,692.68 291.35,692.28 292.35,691.84 293.35,691.33 294.34,690.77 295.34,690.15 296.34,689.45 297.34,688.68 298.34,687.83 299.33,686.90 300.33,685.88 301.33,684.76 302.33,683.55 303.33,682.24 304.33,680.83 305.32,679.31 306.32,677.69 307.32,675.95 308.32,674.11 309.32,672.16 310.31,670.11 311.31,667.95 312.31,665.70 313.31,663.35 314.31,660.91 315.31,658.40 316.30,655.82 317.30,653.18 318.30,650.50 319.30,647.78 320.30,645.04 321.29,642.30 322.29,639.57 323.29,636.86 324.29,634.20 325.29,631.61 326.29,629.09 327.28,626.67 328.28,624.37 329.28,622.20 330.28,620.18 331.28,618.33 332.27,616.65 333.27,615.18 334.27,613.90 335.27,612.85 336.27,612.02 337.27,611.42 338.26,611.07 339.26,610.95 340.26,611.07 341.26,611.44 342.26,612.05 343.25,612.89 344.25,613.96 345.25,615.24 346.25,616.73 347.25,618.42 348.24,620.29 349.24,622.32 350.24,624.51 351.24,626.83 352.24,629.27 353.24,631.81 354.23,634.43 355.23,637.11 356.23,639.84 357.23,642.60 358.23,645.37 359.22,648.14 360.22,650.89 361.22,653.60 362.22,656.27 363.22,658.89 364.22,661.43 365.21,663.90 366.21,666.28 367.21,668.58 368.21,670.77 369.21,672.86 370.20,674.84 371.20,676.72 372.20,678.49 373.20,680.16 374.20,681.71 375.20,683.16 376.19,684.51 377.19,685.75 378.19,686.90 379.19,687.96 380.19,688.93 381.18,689.81 382.18,690.62 383.18,691.34 384.18,692.01 385.18,692.60 386.18,693.14 387.17,693.62 388.17,694.04 389.17,694.43 390.17,694.77 391.17,695.07 392.16,695.34 393.16,695.57 394.16,695.78 395.16,695.96 396.16,696.12 397.16,696.26 398.15,696.39 399.15,696.49 400.15,696.59 401.15,696.67 402.15,696.74 403.14,696.81 404.14,696.86 405.14,696.91 406.14,696.96 407.14,697.00 408.13,697.03 409.13,697.06 410.13,697.09 411.13,697.12 412.13,697.14 413.13,697.17 414.12,697.19 415.12,697.21 416.12,697.23 417.12,697.24 418.12,697.26 419.11,697.28 420.11,697.29 421.11,697.31 422.11,697.32 423.11,697.34 424.11,697.35 425.10,697.37 426.10,697.38 427.10,697.40" fill="none" stroke="#008080" stroke-width="3" stroke-linejoin="round" stroke-linecap="round"/>
<polyline points="209.50,694.30 210.50,694.31 211.50,694.33 212.49,694.34 213.49,694.36 214.49,694.37 215.49,694.39 216.49,694.40 217.49,694.41 218.48,694.43 219.48,694.44 220.48,694.46 221.48,694.47 222.48,694.48 223.47,694.50 224.47,694.51 225.47,694.53 226.47,694.54 227.47,694.55 228.47,694.57 229.46,694.58 230.46,694.59 231.46,694.61 232.46,694.62 233.46,694.63 234.45,694.64 235.45,694.65 236.45,694.66 237.45,694.67 238.45,694.68 239.44,694.68 240.44,694.69 241.44,694.69 242.44,694.69 243.44,694.69 244.44,694.68 245.43,694.67 246.43,694.65 247.43,694.63 248.43,694.60 249.43,694.56 250.42,694.52 251.42,694.46 252.42,694.39 253.42,694.31 254.42,694.21 255.42,694.10 256.41,693.96 257.41,693.80 258.41,693.61 259.41,693.40 260.41,693.15 261.40,692.87 262.40,692.54 263.40,692.18 264.40,691.76 265.40,691.30 266.40,690.77 267.39,690.19 268.39,689.54 269.39,688.82 270.39,688.02 271.39,687.15 272.38,686.19 273.38,685.15 274.38,684.01 275.38,682.78 276.38,681.45 277.38,680.03 278.37,678.50 279.37,676.88 280.37,675.16 281.37,673.33 282.37,671.42 283.36,669.41 284.36,667.31 285.36,665.14 286.36,662.89 287.36,660.58 288.36,658.21 289.35,655.80 290.35,653.36 291.35,650.90 292.35,648.44 293.35,645.99 294.34,643.56 295.34,641.18 296.34,638.86 297.34,636.62 298.34,634.47 299.33,632.43 300.33,630.52 301.33,628.75 302.33,627.14 303.33,625.70 304.33,624.45 305.32,623.38 306.32,622.53 307.32,621.88 308.32,621.45 309.32,621.25 310.31,621.27 311.31,621.51 312.31,621.97 313.31,622.65 314.31,623.54 315.31,624.64 316.30,625.93 317.30,627.40 318.30,629.05 319.30,630.85 320.30,632.79 321.29,634.86 322.29,637.04 323.29,639.32 324.29,641.67 325.29,644.08 326.29,646.53 327.28,649.01 328.28,651.50 329.28,653.99 330.28,656.46 331.28,658.90 332.27,661.29 333.27,663.63 334.27,665.91 335.27,668.11 336.27,670.23 337.27,672.26 338.26,674.20 339.26,676.05 340.26,677.80 341.26,679.45 342.26,681.00 343.25,682.45 344.25,683.80 345.25,685.06 346.25,686.22 347.25,687.29 348.24,688.27 349.24,689.17 350.24,690.00 351.24,690.74 352.24,691.42 353.24,692.03 354.23,692.58 355.23,693.07 356.23,693.51 357.23,693.91 358.23,694.26 359.22,694.57 360.22,694.84 361.22,695.08 362.22,695.30 363.22,695.49 364.22,695.65 365.21,695.80 366.21,695.92 367.21,696.03 368.21,696.13 369.21,696.21 370.20,696.29 371.20,696.35 372.20,696.41 373.20,696.46 374.20,696.50 375.20,696.54 376.19,696.58 377.19,696.61 378.19,696.64 379.19,696.67 380.19,696.69 381.18,696.71 382.18,696.73 383.18,696.75 384.18,696.77 385.18,696.79 386.18,696.81 387.17,696.82 388.17,696.84 389.17,696.85 390.17,696.87 391.17,696.88 392.16,696.90 393.16,696.91 394.16,696.93 395.16,696.94 396.16,696.96 397.16,696.97 398.15,696.99 399.15,697.00 400.15,697.02 401.15,697.03 402.15,697.04 403.14,697.06 404.14,697.07 405.14,697.09 406.14,697.10 407.14,697.12 408.13,697.13 409.13,697.14 410.13,697.16 411.13,697.17 412.13,697.19 413.13,697.20 414.12,697.22 415.12,697.23 416.12,697.24 417.12,697.26 418.12,697.27 419.11,697.29 420.11,697.30 421.11,697.31 422.11,697.33 423.11,697.34 424.11,697.36 425.10,697.37 426.10,697.39 427.10,697.40" fill="none" stroke="#ff00ff" stroke-width="3" stroke-linejoin="round" stroke-linecap="round"/>
<line x1="308.60" y1="605.50" x2="308.60" y2="645.40" stroke="#444" stroke-width="1" stroke-dasharray="4,2,1,2"/>
<line x1="338.20" y1="572.30" x2="338.20" y2="636.00" stroke="#444" stroke-width="1" stroke-dasharray="4,2,1,2"/>
<text x="320.86" y="552.93" font-size="6.62" font-weight="bold" fill="#222" textLength="15.39" lengthAdjust="spacingAndGlyphs" >S2p</text>
<text x="337.68" y="556.41" font-size="4.30" font-weight="bold" fill="#333" textLength="7.02" lengthAdjust="spacingAndGlyphs" >1/2</text>
<text x="324.38" y="565.52" font-size="8.47" font-weight="normal" fill="#222" textLength="40.07" lengthAdjust="spacingAndGlyphs" >163.4eV</text>
<text x="270.67" y="604.19" font-size="6.29" font-weight="bold" fill="#222" textLength="14.66" lengthAdjust="spacingAndGlyphs" >S2p</text>
<text x="286.28" y="608.01" font-size="4.30" font-weight="bold" fill="#333" textLength="7.54" lengthAdjust="spacingAndGlyphs" >3/2</text>
<text x="255.40" y="616.32" font-size="8.05" font-weight="normal" fill="#222" textLength="39.04" lengthAdjust="spacingAndGlyphs" >164.5eV</text>
<text x="343.02" y="577.11" font-size="8.16" font-weight="normal" fill="#333" textLength="3.14" lengthAdjust="spacingAndGlyphs" >(</text>
<text x="346.47" y="577.04" font-size="6.64" font-weight="normal" fill="#333" textLength="7.76" lengthAdjust="spacingAndGlyphs" >S</text>
<text x="354.79" y="580.30" font-size="3.44" font-weight="normal" fill="#333" textLength="3.42" lengthAdjust="spacingAndGlyphs" >2</text>
<text x="358.33" y="573.10" font-size="4.15" font-weight="normal" fill="#333" textLength="5.48" lengthAdjust="spacingAndGlyphs" >-2</text>
<text x="364.35" y="577.11" font-size="8.16" font-weight="normal" fill="#333" textLength="3.01" lengthAdjust="spacingAndGlyphs" >)</text>
<line x1="419" y1="748" x2="425.5" y2="748" stroke="#bbb" stroke-width="1"/>
</svg>
</body></html>
